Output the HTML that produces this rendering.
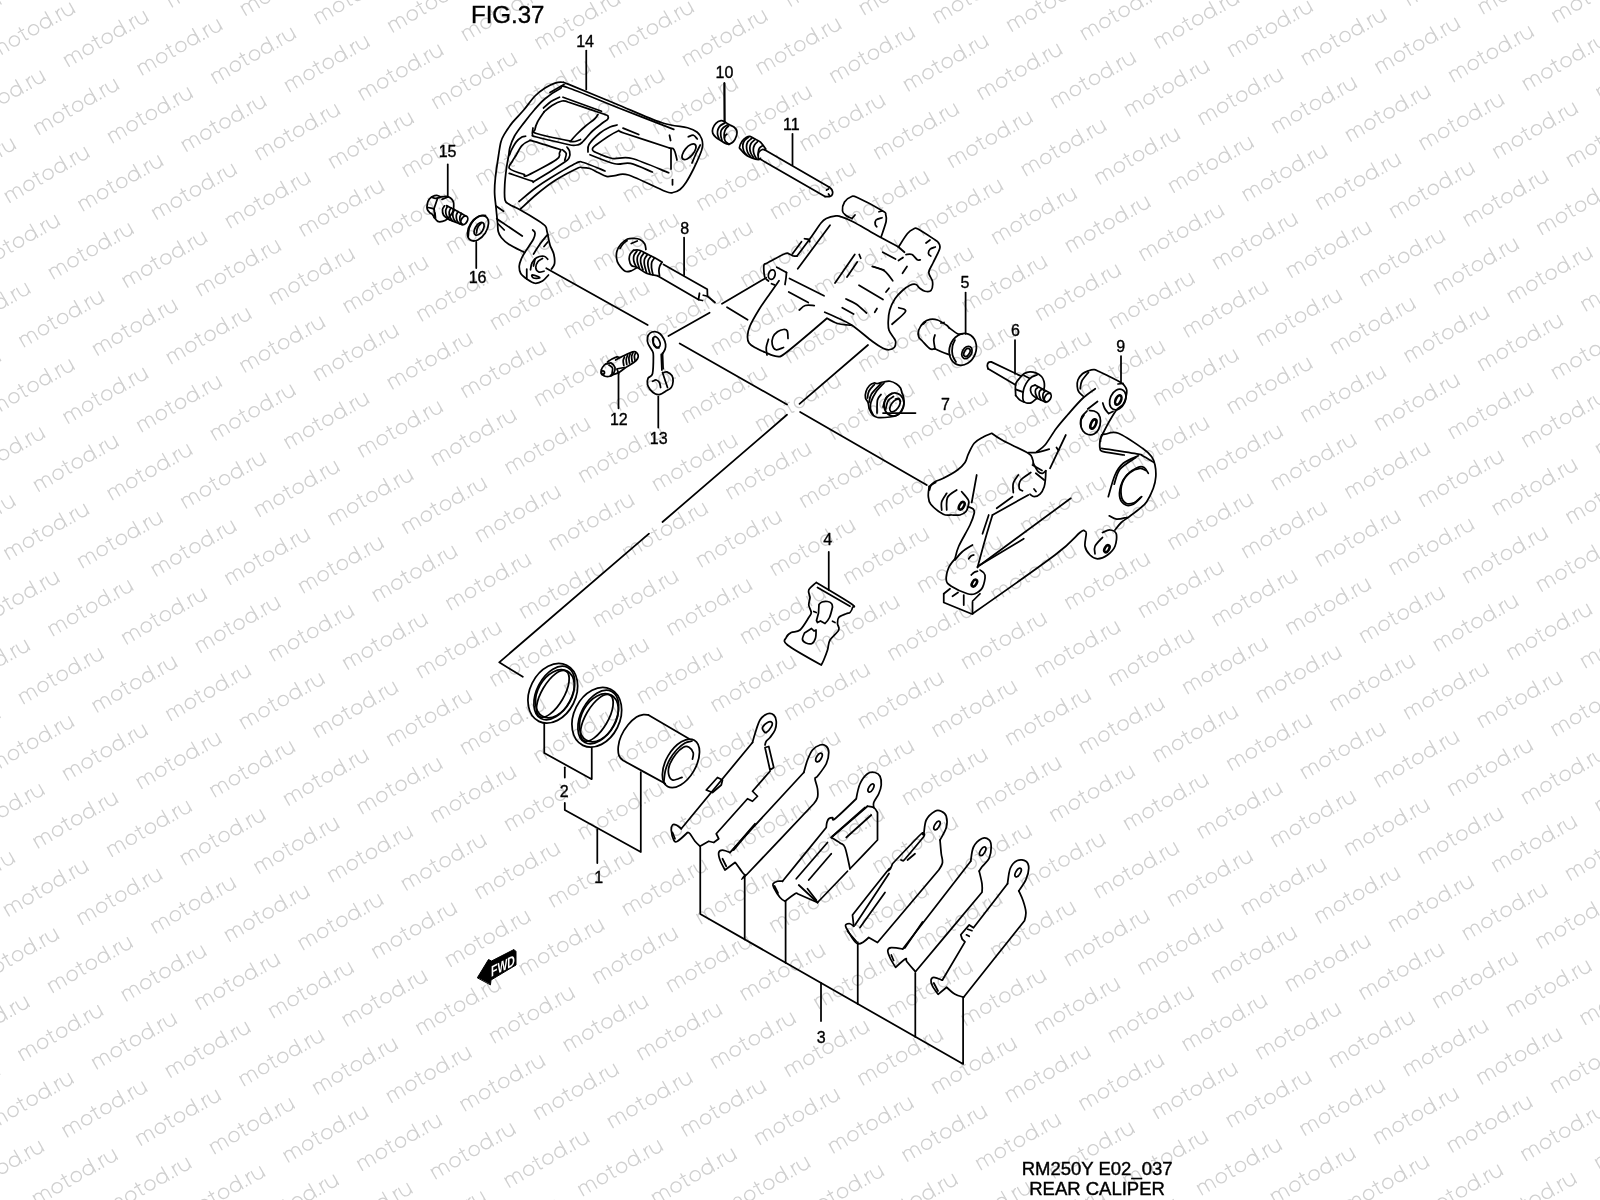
<!DOCTYPE html>
<html><head><meta charset="utf-8"><title>Rear Caliper</title>
<style>
html,body{margin:0;padding:0;background:#fff;}
body{width:1600px;height:1200px;overflow:hidden;}
svg{display:block;filter:grayscale(1);}
.t{font-family:"Liberation Sans",sans-serif;fill:#000;}
</style></head><body>
<svg width="1600" height="1200" viewBox="0 0 1600 1200">
<defs><g id="wm"><path d="M0.3,0V-10.5M0.3,-6.6A3.85,4 0 0 1 8,-6.6V0M8,-6.6A3.7,4 0 0 1 15.4,-6.6V0M35.7,-14.3V-1.8Q35.9,-0.1 38,-0.3M32.6,-10.8H38.6M66.2,-15.2V0M75.6,0V-10.5M75.6,-6.8Q76.4,-10.5 79.6,-10.7M82,-10.6V-4.6A4.8,4.8 0 0 0 91.6,-4.6M91.6,-10.6V0"/><circle cx="25" cy="-5.4" r="5.1"/><circle cx="47.2" cy="-5.5" r="5.1"/><circle cx="61" cy="-5.5" r="5.1"/><circle cx="71" cy="-0.7" r="1" fill="#d0d0d0" stroke="none"/></g></defs>
<rect width="1600" height="1200" fill="#fff"/>
<g transform="rotate(-30)" fill="none" stroke="#d0d0d0" stroke-width="1.35" stroke-linecap="round">
<g fill="none"><use href="#wm" x="-688.6" y="4.0"/>
<use href="#wm" x="-569.4" y="4.0"/>
<use href="#wm" x="-450.2" y="4.0"/>
<use href="#wm" x="-331.0" y="4.0"/>
<use href="#wm" x="-211.8" y="4.0"/>
<use href="#wm" x="-92.6" y="4.0"/>
<use href="#wm" x="26.6" y="4.0"/>
<use href="#wm" x="145.8" y="4.0"/>
<use href="#wm" x="265.0" y="4.0"/>
<use href="#wm" x="384.2" y="4.0"/>
<use href="#wm" x="503.4" y="4.0"/>
<use href="#wm" x="622.6" y="4.0"/>
<use href="#wm" x="741.8" y="4.0"/>
<use href="#wm" x="861.0" y="4.0"/>
<use href="#wm" x="980.2" y="4.0"/>
<use href="#wm" x="1099.4" y="4.0"/>
<use href="#wm" x="1218.6" y="4.0"/>
<use href="#wm" x="1337.8" y="4.0"/>
<use href="#wm" x="-629.0" y="48.1"/>
<use href="#wm" x="-509.8" y="48.1"/>
<use href="#wm" x="-390.6" y="48.1"/>
<use href="#wm" x="-271.4" y="48.1"/>
<use href="#wm" x="-152.2" y="48.1"/>
<use href="#wm" x="-33.0" y="48.1"/>
<use href="#wm" x="86.2" y="48.1"/>
<use href="#wm" x="205.4" y="48.1"/>
<use href="#wm" x="324.6" y="48.1"/>
<use href="#wm" x="443.8" y="48.1"/>
<use href="#wm" x="563.0" y="48.1"/>
<use href="#wm" x="682.2" y="48.1"/>
<use href="#wm" x="801.4" y="48.1"/>
<use href="#wm" x="920.6" y="48.1"/>
<use href="#wm" x="1039.8" y="48.1"/>
<use href="#wm" x="1159.0" y="48.1"/>
<use href="#wm" x="1278.2" y="48.1"/>
<use href="#wm" x="1397.4" y="48.1"/>
<use href="#wm" x="-688.6" y="92.2"/>
<use href="#wm" x="-569.4" y="92.2"/>
<use href="#wm" x="-450.2" y="92.2"/>
<use href="#wm" x="-331.0" y="92.2"/>
<use href="#wm" x="-211.8" y="92.2"/>
<use href="#wm" x="-92.6" y="92.2"/>
<use href="#wm" x="26.6" y="92.2"/>
<use href="#wm" x="145.8" y="92.2"/>
<use href="#wm" x="265.0" y="92.2"/>
<use href="#wm" x="384.2" y="92.2"/>
<use href="#wm" x="503.4" y="92.2"/>
<use href="#wm" x="622.6" y="92.2"/>
<use href="#wm" x="741.8" y="92.2"/>
<use href="#wm" x="861.0" y="92.2"/>
<use href="#wm" x="980.2" y="92.2"/>
<use href="#wm" x="1099.4" y="92.2"/>
<use href="#wm" x="1218.6" y="92.2"/>
<use href="#wm" x="1337.8" y="92.2"/>
<use href="#wm" x="-629.0" y="136.3"/>
<use href="#wm" x="-509.8" y="136.3"/>
<use href="#wm" x="-390.6" y="136.3"/>
<use href="#wm" x="-271.4" y="136.3"/>
<use href="#wm" x="-152.2" y="136.3"/>
<use href="#wm" x="-33.0" y="136.3"/>
<use href="#wm" x="86.2" y="136.3"/>
<use href="#wm" x="205.4" y="136.3"/>
<use href="#wm" x="324.6" y="136.3"/>
<use href="#wm" x="443.8" y="136.3"/>
<use href="#wm" x="563.0" y="136.3"/>
<use href="#wm" x="682.2" y="136.3"/>
<use href="#wm" x="801.4" y="136.3"/>
<use href="#wm" x="920.6" y="136.3"/>
<use href="#wm" x="1039.8" y="136.3"/>
<use href="#wm" x="1159.0" y="136.3"/>
<use href="#wm" x="1278.2" y="136.3"/>
<use href="#wm" x="1397.4" y="136.3"/>
<use href="#wm" x="-688.6" y="180.4"/>
<use href="#wm" x="-569.4" y="180.4"/>
<use href="#wm" x="-450.2" y="180.4"/>
<use href="#wm" x="-331.0" y="180.4"/>
<use href="#wm" x="-211.8" y="180.4"/>
<use href="#wm" x="-92.6" y="180.4"/>
<use href="#wm" x="26.6" y="180.4"/>
<use href="#wm" x="145.8" y="180.4"/>
<use href="#wm" x="265.0" y="180.4"/>
<use href="#wm" x="384.2" y="180.4"/>
<use href="#wm" x="503.4" y="180.4"/>
<use href="#wm" x="622.6" y="180.4"/>
<use href="#wm" x="741.8" y="180.4"/>
<use href="#wm" x="861.0" y="180.4"/>
<use href="#wm" x="980.2" y="180.4"/>
<use href="#wm" x="1099.4" y="180.4"/>
<use href="#wm" x="1218.6" y="180.4"/>
<use href="#wm" x="1337.8" y="180.4"/>
<use href="#wm" x="-629.0" y="224.5"/>
<use href="#wm" x="-509.8" y="224.5"/>
<use href="#wm" x="-390.6" y="224.5"/>
<use href="#wm" x="-271.4" y="224.5"/>
<use href="#wm" x="-152.2" y="224.5"/>
<use href="#wm" x="-33.0" y="224.5"/>
<use href="#wm" x="86.2" y="224.5"/>
<use href="#wm" x="205.4" y="224.5"/>
<use href="#wm" x="324.6" y="224.5"/>
<use href="#wm" x="443.8" y="224.5"/>
<use href="#wm" x="563.0" y="224.5"/>
<use href="#wm" x="682.2" y="224.5"/>
<use href="#wm" x="801.4" y="224.5"/>
<use href="#wm" x="920.6" y="224.5"/>
<use href="#wm" x="1039.8" y="224.5"/>
<use href="#wm" x="1159.0" y="224.5"/>
<use href="#wm" x="1278.2" y="224.5"/>
<use href="#wm" x="1397.4" y="224.5"/>
<use href="#wm" x="-688.6" y="268.6"/>
<use href="#wm" x="-569.4" y="268.6"/>
<use href="#wm" x="-450.2" y="268.6"/>
<use href="#wm" x="-331.0" y="268.6"/>
<use href="#wm" x="-211.8" y="268.6"/>
<use href="#wm" x="-92.6" y="268.6"/>
<use href="#wm" x="26.6" y="268.6"/>
<use href="#wm" x="145.8" y="268.6"/>
<use href="#wm" x="265.0" y="268.6"/>
<use href="#wm" x="384.2" y="268.6"/>
<use href="#wm" x="503.4" y="268.6"/>
<use href="#wm" x="622.6" y="268.6"/>
<use href="#wm" x="741.8" y="268.6"/>
<use href="#wm" x="861.0" y="268.6"/>
<use href="#wm" x="980.2" y="268.6"/>
<use href="#wm" x="1099.4" y="268.6"/>
<use href="#wm" x="1218.6" y="268.6"/>
<use href="#wm" x="1337.8" y="268.6"/>
<use href="#wm" x="-629.0" y="312.7"/>
<use href="#wm" x="-509.8" y="312.7"/>
<use href="#wm" x="-390.6" y="312.7"/>
<use href="#wm" x="-271.4" y="312.7"/>
<use href="#wm" x="-152.2" y="312.7"/>
<use href="#wm" x="-33.0" y="312.7"/>
<use href="#wm" x="86.2" y="312.7"/>
<use href="#wm" x="205.4" y="312.7"/>
<use href="#wm" x="324.6" y="312.7"/>
<use href="#wm" x="443.8" y="312.7"/>
<use href="#wm" x="563.0" y="312.7"/>
<use href="#wm" x="682.2" y="312.7"/>
<use href="#wm" x="801.4" y="312.7"/>
<use href="#wm" x="920.6" y="312.7"/>
<use href="#wm" x="1039.8" y="312.7"/>
<use href="#wm" x="1159.0" y="312.7"/>
<use href="#wm" x="1278.2" y="312.7"/>
<use href="#wm" x="1397.4" y="312.7"/>
<use href="#wm" x="-688.6" y="356.8"/>
<use href="#wm" x="-569.4" y="356.8"/>
<use href="#wm" x="-450.2" y="356.8"/>
<use href="#wm" x="-331.0" y="356.8"/>
<use href="#wm" x="-211.8" y="356.8"/>
<use href="#wm" x="-92.6" y="356.8"/>
<use href="#wm" x="26.6" y="356.8"/>
<use href="#wm" x="145.8" y="356.8"/>
<use href="#wm" x="265.0" y="356.8"/>
<use href="#wm" x="384.2" y="356.8"/>
<use href="#wm" x="503.4" y="356.8"/>
<use href="#wm" x="622.6" y="356.8"/>
<use href="#wm" x="741.8" y="356.8"/>
<use href="#wm" x="861.0" y="356.8"/>
<use href="#wm" x="980.2" y="356.8"/>
<use href="#wm" x="1099.4" y="356.8"/>
<use href="#wm" x="1218.6" y="356.8"/>
<use href="#wm" x="1337.8" y="356.8"/>
<use href="#wm" x="-629.0" y="401.0"/>
<use href="#wm" x="-509.8" y="401.0"/>
<use href="#wm" x="-390.6" y="401.0"/>
<use href="#wm" x="-271.4" y="401.0"/>
<use href="#wm" x="-152.2" y="401.0"/>
<use href="#wm" x="-33.0" y="401.0"/>
<use href="#wm" x="86.2" y="401.0"/>
<use href="#wm" x="205.4" y="401.0"/>
<use href="#wm" x="324.6" y="401.0"/>
<use href="#wm" x="443.8" y="401.0"/>
<use href="#wm" x="563.0" y="401.0"/>
<use href="#wm" x="682.2" y="401.0"/>
<use href="#wm" x="801.4" y="401.0"/>
<use href="#wm" x="920.6" y="401.0"/>
<use href="#wm" x="1039.8" y="401.0"/>
<use href="#wm" x="1159.0" y="401.0"/>
<use href="#wm" x="1278.2" y="401.0"/>
<use href="#wm" x="1397.4" y="401.0"/>
<use href="#wm" x="-688.6" y="445.1"/>
<use href="#wm" x="-569.4" y="445.1"/>
<use href="#wm" x="-450.2" y="445.1"/>
<use href="#wm" x="-331.0" y="445.1"/>
<use href="#wm" x="-211.8" y="445.1"/>
<use href="#wm" x="-92.6" y="445.1"/>
<use href="#wm" x="26.6" y="445.1"/>
<use href="#wm" x="145.8" y="445.1"/>
<use href="#wm" x="265.0" y="445.1"/>
<use href="#wm" x="384.2" y="445.1"/>
<use href="#wm" x="503.4" y="445.1"/>
<use href="#wm" x="622.6" y="445.1"/>
<use href="#wm" x="741.8" y="445.1"/>
<use href="#wm" x="861.0" y="445.1"/>
<use href="#wm" x="980.2" y="445.1"/>
<use href="#wm" x="1099.4" y="445.1"/>
<use href="#wm" x="1218.6" y="445.1"/>
<use href="#wm" x="1337.8" y="445.1"/>
<use href="#wm" x="-629.0" y="489.2"/>
<use href="#wm" x="-509.8" y="489.2"/>
<use href="#wm" x="-390.6" y="489.2"/>
<use href="#wm" x="-271.4" y="489.2"/>
<use href="#wm" x="-152.2" y="489.2"/>
<use href="#wm" x="-33.0" y="489.2"/>
<use href="#wm" x="86.2" y="489.2"/>
<use href="#wm" x="205.4" y="489.2"/>
<use href="#wm" x="324.6" y="489.2"/>
<use href="#wm" x="443.8" y="489.2"/>
<use href="#wm" x="563.0" y="489.2"/>
<use href="#wm" x="682.2" y="489.2"/>
<use href="#wm" x="801.4" y="489.2"/>
<use href="#wm" x="920.6" y="489.2"/>
<use href="#wm" x="1039.8" y="489.2"/>
<use href="#wm" x="1159.0" y="489.2"/>
<use href="#wm" x="1278.2" y="489.2"/>
<use href="#wm" x="1397.4" y="489.2"/>
<use href="#wm" x="-688.6" y="533.3"/>
<use href="#wm" x="-569.4" y="533.3"/>
<use href="#wm" x="-450.2" y="533.3"/>
<use href="#wm" x="-331.0" y="533.3"/>
<use href="#wm" x="-211.8" y="533.3"/>
<use href="#wm" x="-92.6" y="533.3"/>
<use href="#wm" x="26.6" y="533.3"/>
<use href="#wm" x="145.8" y="533.3"/>
<use href="#wm" x="265.0" y="533.3"/>
<use href="#wm" x="384.2" y="533.3"/>
<use href="#wm" x="503.4" y="533.3"/>
<use href="#wm" x="622.6" y="533.3"/>
<use href="#wm" x="741.8" y="533.3"/>
<use href="#wm" x="861.0" y="533.3"/>
<use href="#wm" x="980.2" y="533.3"/>
<use href="#wm" x="1099.4" y="533.3"/>
<use href="#wm" x="1218.6" y="533.3"/>
<use href="#wm" x="1337.8" y="533.3"/>
<use href="#wm" x="-629.0" y="577.4"/>
<use href="#wm" x="-509.8" y="577.4"/>
<use href="#wm" x="-390.6" y="577.4"/>
<use href="#wm" x="-271.4" y="577.4"/>
<use href="#wm" x="-152.2" y="577.4"/>
<use href="#wm" x="-33.0" y="577.4"/>
<use href="#wm" x="86.2" y="577.4"/>
<use href="#wm" x="205.4" y="577.4"/>
<use href="#wm" x="324.6" y="577.4"/>
<use href="#wm" x="443.8" y="577.4"/>
<use href="#wm" x="563.0" y="577.4"/>
<use href="#wm" x="682.2" y="577.4"/>
<use href="#wm" x="801.4" y="577.4"/>
<use href="#wm" x="920.6" y="577.4"/>
<use href="#wm" x="1039.8" y="577.4"/>
<use href="#wm" x="1159.0" y="577.4"/>
<use href="#wm" x="1278.2" y="577.4"/>
<use href="#wm" x="1397.4" y="577.4"/>
<use href="#wm" x="-688.6" y="621.5"/>
<use href="#wm" x="-569.4" y="621.5"/>
<use href="#wm" x="-450.2" y="621.5"/>
<use href="#wm" x="-331.0" y="621.5"/>
<use href="#wm" x="-211.8" y="621.5"/>
<use href="#wm" x="-92.6" y="621.5"/>
<use href="#wm" x="26.6" y="621.5"/>
<use href="#wm" x="145.8" y="621.5"/>
<use href="#wm" x="265.0" y="621.5"/>
<use href="#wm" x="384.2" y="621.5"/>
<use href="#wm" x="503.4" y="621.5"/>
<use href="#wm" x="622.6" y="621.5"/>
<use href="#wm" x="741.8" y="621.5"/>
<use href="#wm" x="861.0" y="621.5"/>
<use href="#wm" x="980.2" y="621.5"/>
<use href="#wm" x="1099.4" y="621.5"/>
<use href="#wm" x="1218.6" y="621.5"/>
<use href="#wm" x="1337.8" y="621.5"/>
<use href="#wm" x="-629.0" y="665.6"/>
<use href="#wm" x="-509.8" y="665.6"/>
<use href="#wm" x="-390.6" y="665.6"/>
<use href="#wm" x="-271.4" y="665.6"/>
<use href="#wm" x="-152.2" y="665.6"/>
<use href="#wm" x="-33.0" y="665.6"/>
<use href="#wm" x="86.2" y="665.6"/>
<use href="#wm" x="205.4" y="665.6"/>
<use href="#wm" x="324.6" y="665.6"/>
<use href="#wm" x="443.8" y="665.6"/>
<use href="#wm" x="563.0" y="665.6"/>
<use href="#wm" x="682.2" y="665.6"/>
<use href="#wm" x="801.4" y="665.6"/>
<use href="#wm" x="920.6" y="665.6"/>
<use href="#wm" x="1039.8" y="665.6"/>
<use href="#wm" x="1159.0" y="665.6"/>
<use href="#wm" x="1278.2" y="665.6"/>
<use href="#wm" x="1397.4" y="665.6"/>
<use href="#wm" x="-688.6" y="709.7"/>
<use href="#wm" x="-569.4" y="709.7"/>
<use href="#wm" x="-450.2" y="709.7"/>
<use href="#wm" x="-331.0" y="709.7"/>
<use href="#wm" x="-211.8" y="709.7"/>
<use href="#wm" x="-92.6" y="709.7"/>
<use href="#wm" x="26.6" y="709.7"/>
<use href="#wm" x="145.8" y="709.7"/>
<use href="#wm" x="265.0" y="709.7"/>
<use href="#wm" x="384.2" y="709.7"/>
<use href="#wm" x="503.4" y="709.7"/>
<use href="#wm" x="622.6" y="709.7"/>
<use href="#wm" x="741.8" y="709.7"/>
<use href="#wm" x="861.0" y="709.7"/>
<use href="#wm" x="980.2" y="709.7"/>
<use href="#wm" x="1099.4" y="709.7"/>
<use href="#wm" x="1218.6" y="709.7"/>
<use href="#wm" x="1337.8" y="709.7"/>
<use href="#wm" x="-629.0" y="753.8"/>
<use href="#wm" x="-509.8" y="753.8"/>
<use href="#wm" x="-390.6" y="753.8"/>
<use href="#wm" x="-271.4" y="753.8"/>
<use href="#wm" x="-152.2" y="753.8"/>
<use href="#wm" x="-33.0" y="753.8"/>
<use href="#wm" x="86.2" y="753.8"/>
<use href="#wm" x="205.4" y="753.8"/>
<use href="#wm" x="324.6" y="753.8"/>
<use href="#wm" x="443.8" y="753.8"/>
<use href="#wm" x="563.0" y="753.8"/>
<use href="#wm" x="682.2" y="753.8"/>
<use href="#wm" x="801.4" y="753.8"/>
<use href="#wm" x="920.6" y="753.8"/>
<use href="#wm" x="1039.8" y="753.8"/>
<use href="#wm" x="1159.0" y="753.8"/>
<use href="#wm" x="1278.2" y="753.8"/>
<use href="#wm" x="1397.4" y="753.8"/>
<use href="#wm" x="-688.6" y="797.9"/>
<use href="#wm" x="-569.4" y="797.9"/>
<use href="#wm" x="-450.2" y="797.9"/>
<use href="#wm" x="-331.0" y="797.9"/>
<use href="#wm" x="-211.8" y="797.9"/>
<use href="#wm" x="-92.6" y="797.9"/>
<use href="#wm" x="26.6" y="797.9"/>
<use href="#wm" x="145.8" y="797.9"/>
<use href="#wm" x="265.0" y="797.9"/>
<use href="#wm" x="384.2" y="797.9"/>
<use href="#wm" x="503.4" y="797.9"/>
<use href="#wm" x="622.6" y="797.9"/>
<use href="#wm" x="741.8" y="797.9"/>
<use href="#wm" x="861.0" y="797.9"/>
<use href="#wm" x="980.2" y="797.9"/>
<use href="#wm" x="1099.4" y="797.9"/>
<use href="#wm" x="1218.6" y="797.9"/>
<use href="#wm" x="1337.8" y="797.9"/>
<use href="#wm" x="-629.0" y="842.0"/>
<use href="#wm" x="-509.8" y="842.0"/>
<use href="#wm" x="-390.6" y="842.0"/>
<use href="#wm" x="-271.4" y="842.0"/>
<use href="#wm" x="-152.2" y="842.0"/>
<use href="#wm" x="-33.0" y="842.0"/>
<use href="#wm" x="86.2" y="842.0"/>
<use href="#wm" x="205.4" y="842.0"/>
<use href="#wm" x="324.6" y="842.0"/>
<use href="#wm" x="443.8" y="842.0"/>
<use href="#wm" x="563.0" y="842.0"/>
<use href="#wm" x="682.2" y="842.0"/>
<use href="#wm" x="801.4" y="842.0"/>
<use href="#wm" x="920.6" y="842.0"/>
<use href="#wm" x="1039.8" y="842.0"/>
<use href="#wm" x="1159.0" y="842.0"/>
<use href="#wm" x="1278.2" y="842.0"/>
<use href="#wm" x="1397.4" y="842.0"/>
<use href="#wm" x="-688.6" y="886.2"/>
<use href="#wm" x="-569.4" y="886.2"/>
<use href="#wm" x="-450.2" y="886.2"/>
<use href="#wm" x="-331.0" y="886.2"/>
<use href="#wm" x="-211.8" y="886.2"/>
<use href="#wm" x="-92.6" y="886.2"/>
<use href="#wm" x="26.6" y="886.2"/>
<use href="#wm" x="145.8" y="886.2"/>
<use href="#wm" x="265.0" y="886.2"/>
<use href="#wm" x="384.2" y="886.2"/>
<use href="#wm" x="503.4" y="886.2"/>
<use href="#wm" x="622.6" y="886.2"/>
<use href="#wm" x="741.8" y="886.2"/>
<use href="#wm" x="861.0" y="886.2"/>
<use href="#wm" x="980.2" y="886.2"/>
<use href="#wm" x="1099.4" y="886.2"/>
<use href="#wm" x="1218.6" y="886.2"/>
<use href="#wm" x="1337.8" y="886.2"/>
<use href="#wm" x="-629.0" y="930.3"/>
<use href="#wm" x="-509.8" y="930.3"/>
<use href="#wm" x="-390.6" y="930.3"/>
<use href="#wm" x="-271.4" y="930.3"/>
<use href="#wm" x="-152.2" y="930.3"/>
<use href="#wm" x="-33.0" y="930.3"/>
<use href="#wm" x="86.2" y="930.3"/>
<use href="#wm" x="205.4" y="930.3"/>
<use href="#wm" x="324.6" y="930.3"/>
<use href="#wm" x="443.8" y="930.3"/>
<use href="#wm" x="563.0" y="930.3"/>
<use href="#wm" x="682.2" y="930.3"/>
<use href="#wm" x="801.4" y="930.3"/>
<use href="#wm" x="920.6" y="930.3"/>
<use href="#wm" x="1039.8" y="930.3"/>
<use href="#wm" x="1159.0" y="930.3"/>
<use href="#wm" x="1278.2" y="930.3"/>
<use href="#wm" x="1397.4" y="930.3"/>
<use href="#wm" x="-688.6" y="974.4"/>
<use href="#wm" x="-569.4" y="974.4"/>
<use href="#wm" x="-450.2" y="974.4"/>
<use href="#wm" x="-331.0" y="974.4"/>
<use href="#wm" x="-211.8" y="974.4"/>
<use href="#wm" x="-92.6" y="974.4"/>
<use href="#wm" x="26.6" y="974.4"/>
<use href="#wm" x="145.8" y="974.4"/>
<use href="#wm" x="265.0" y="974.4"/>
<use href="#wm" x="384.2" y="974.4"/>
<use href="#wm" x="503.4" y="974.4"/>
<use href="#wm" x="622.6" y="974.4"/>
<use href="#wm" x="741.8" y="974.4"/>
<use href="#wm" x="861.0" y="974.4"/>
<use href="#wm" x="980.2" y="974.4"/>
<use href="#wm" x="1099.4" y="974.4"/>
<use href="#wm" x="1218.6" y="974.4"/>
<use href="#wm" x="1337.8" y="974.4"/>
<use href="#wm" x="-629.0" y="1018.5"/>
<use href="#wm" x="-509.8" y="1018.5"/>
<use href="#wm" x="-390.6" y="1018.5"/>
<use href="#wm" x="-271.4" y="1018.5"/>
<use href="#wm" x="-152.2" y="1018.5"/>
<use href="#wm" x="-33.0" y="1018.5"/>
<use href="#wm" x="86.2" y="1018.5"/>
<use href="#wm" x="205.4" y="1018.5"/>
<use href="#wm" x="324.6" y="1018.5"/>
<use href="#wm" x="443.8" y="1018.5"/>
<use href="#wm" x="563.0" y="1018.5"/>
<use href="#wm" x="682.2" y="1018.5"/>
<use href="#wm" x="801.4" y="1018.5"/>
<use href="#wm" x="920.6" y="1018.5"/>
<use href="#wm" x="1039.8" y="1018.5"/>
<use href="#wm" x="1159.0" y="1018.5"/>
<use href="#wm" x="1278.2" y="1018.5"/>
<use href="#wm" x="1397.4" y="1018.5"/>
<use href="#wm" x="-688.6" y="1062.6"/>
<use href="#wm" x="-569.4" y="1062.6"/>
<use href="#wm" x="-450.2" y="1062.6"/>
<use href="#wm" x="-331.0" y="1062.6"/>
<use href="#wm" x="-211.8" y="1062.6"/>
<use href="#wm" x="-92.6" y="1062.6"/>
<use href="#wm" x="26.6" y="1062.6"/>
<use href="#wm" x="145.8" y="1062.6"/>
<use href="#wm" x="265.0" y="1062.6"/>
<use href="#wm" x="384.2" y="1062.6"/>
<use href="#wm" x="503.4" y="1062.6"/>
<use href="#wm" x="622.6" y="1062.6"/>
<use href="#wm" x="741.8" y="1062.6"/>
<use href="#wm" x="861.0" y="1062.6"/>
<use href="#wm" x="980.2" y="1062.6"/>
<use href="#wm" x="1099.4" y="1062.6"/>
<use href="#wm" x="1218.6" y="1062.6"/>
<use href="#wm" x="1337.8" y="1062.6"/>
<use href="#wm" x="-629.0" y="1106.7"/>
<use href="#wm" x="-509.8" y="1106.7"/>
<use href="#wm" x="-390.6" y="1106.7"/>
<use href="#wm" x="-271.4" y="1106.7"/>
<use href="#wm" x="-152.2" y="1106.7"/>
<use href="#wm" x="-33.0" y="1106.7"/>
<use href="#wm" x="86.2" y="1106.7"/>
<use href="#wm" x="205.4" y="1106.7"/>
<use href="#wm" x="324.6" y="1106.7"/>
<use href="#wm" x="443.8" y="1106.7"/>
<use href="#wm" x="563.0" y="1106.7"/>
<use href="#wm" x="682.2" y="1106.7"/>
<use href="#wm" x="801.4" y="1106.7"/>
<use href="#wm" x="920.6" y="1106.7"/>
<use href="#wm" x="1039.8" y="1106.7"/>
<use href="#wm" x="1159.0" y="1106.7"/>
<use href="#wm" x="1278.2" y="1106.7"/>
<use href="#wm" x="1397.4" y="1106.7"/>
<use href="#wm" x="-688.6" y="1150.8"/>
<use href="#wm" x="-569.4" y="1150.8"/>
<use href="#wm" x="-450.2" y="1150.8"/>
<use href="#wm" x="-331.0" y="1150.8"/>
<use href="#wm" x="-211.8" y="1150.8"/>
<use href="#wm" x="-92.6" y="1150.8"/>
<use href="#wm" x="26.6" y="1150.8"/>
<use href="#wm" x="145.8" y="1150.8"/>
<use href="#wm" x="265.0" y="1150.8"/>
<use href="#wm" x="384.2" y="1150.8"/>
<use href="#wm" x="503.4" y="1150.8"/>
<use href="#wm" x="622.6" y="1150.8"/>
<use href="#wm" x="741.8" y="1150.8"/>
<use href="#wm" x="861.0" y="1150.8"/>
<use href="#wm" x="980.2" y="1150.8"/>
<use href="#wm" x="1099.4" y="1150.8"/>
<use href="#wm" x="1218.6" y="1150.8"/>
<use href="#wm" x="1337.8" y="1150.8"/>
<use href="#wm" x="-629.0" y="1194.9"/>
<use href="#wm" x="-509.8" y="1194.9"/>
<use href="#wm" x="-390.6" y="1194.9"/>
<use href="#wm" x="-271.4" y="1194.9"/>
<use href="#wm" x="-152.2" y="1194.9"/>
<use href="#wm" x="-33.0" y="1194.9"/>
<use href="#wm" x="86.2" y="1194.9"/>
<use href="#wm" x="205.4" y="1194.9"/>
<use href="#wm" x="324.6" y="1194.9"/>
<use href="#wm" x="443.8" y="1194.9"/>
<use href="#wm" x="563.0" y="1194.9"/>
<use href="#wm" x="682.2" y="1194.9"/>
<use href="#wm" x="801.4" y="1194.9"/>
<use href="#wm" x="920.6" y="1194.9"/>
<use href="#wm" x="1039.8" y="1194.9"/>
<use href="#wm" x="1159.0" y="1194.9"/>
<use href="#wm" x="1278.2" y="1194.9"/>
<use href="#wm" x="1397.4" y="1194.9"/>
<use href="#wm" x="-688.6" y="1239.0"/>
<use href="#wm" x="-569.4" y="1239.0"/>
<use href="#wm" x="-450.2" y="1239.0"/>
<use href="#wm" x="-331.0" y="1239.0"/>
<use href="#wm" x="-211.8" y="1239.0"/>
<use href="#wm" x="-92.6" y="1239.0"/>
<use href="#wm" x="26.6" y="1239.0"/>
<use href="#wm" x="145.8" y="1239.0"/>
<use href="#wm" x="265.0" y="1239.0"/>
<use href="#wm" x="384.2" y="1239.0"/>
<use href="#wm" x="503.4" y="1239.0"/>
<use href="#wm" x="622.6" y="1239.0"/>
<use href="#wm" x="741.8" y="1239.0"/>
<use href="#wm" x="861.0" y="1239.0"/>
<use href="#wm" x="980.2" y="1239.0"/>
<use href="#wm" x="1099.4" y="1239.0"/>
<use href="#wm" x="1218.6" y="1239.0"/>
<use href="#wm" x="1337.8" y="1239.0"/>
<use href="#wm" x="-629.0" y="1283.2"/>
<use href="#wm" x="-509.8" y="1283.2"/>
<use href="#wm" x="-390.6" y="1283.2"/>
<use href="#wm" x="-271.4" y="1283.2"/>
<use href="#wm" x="-152.2" y="1283.2"/>
<use href="#wm" x="-33.0" y="1283.2"/>
<use href="#wm" x="86.2" y="1283.2"/>
<use href="#wm" x="205.4" y="1283.2"/>
<use href="#wm" x="324.6" y="1283.2"/>
<use href="#wm" x="443.8" y="1283.2"/>
<use href="#wm" x="563.0" y="1283.2"/>
<use href="#wm" x="682.2" y="1283.2"/>
<use href="#wm" x="801.4" y="1283.2"/>
<use href="#wm" x="920.6" y="1283.2"/>
<use href="#wm" x="1039.8" y="1283.2"/>
<use href="#wm" x="1159.0" y="1283.2"/>
<use href="#wm" x="1278.2" y="1283.2"/>
<use href="#wm" x="1397.4" y="1283.2"/>
<use href="#wm" x="-688.6" y="1327.3"/>
<use href="#wm" x="-569.4" y="1327.3"/>
<use href="#wm" x="-450.2" y="1327.3"/>
<use href="#wm" x="-331.0" y="1327.3"/>
<use href="#wm" x="-211.8" y="1327.3"/>
<use href="#wm" x="-92.6" y="1327.3"/>
<use href="#wm" x="26.6" y="1327.3"/>
<use href="#wm" x="145.8" y="1327.3"/>
<use href="#wm" x="265.0" y="1327.3"/>
<use href="#wm" x="384.2" y="1327.3"/>
<use href="#wm" x="503.4" y="1327.3"/>
<use href="#wm" x="622.6" y="1327.3"/>
<use href="#wm" x="741.8" y="1327.3"/>
<use href="#wm" x="861.0" y="1327.3"/>
<use href="#wm" x="980.2" y="1327.3"/>
<use href="#wm" x="1099.4" y="1327.3"/>
<use href="#wm" x="1218.6" y="1327.3"/>
<use href="#wm" x="1337.8" y="1327.3"/>
<use href="#wm" x="-629.0" y="1371.4"/>
<use href="#wm" x="-509.8" y="1371.4"/>
<use href="#wm" x="-390.6" y="1371.4"/>
<use href="#wm" x="-271.4" y="1371.4"/>
<use href="#wm" x="-152.2" y="1371.4"/>
<use href="#wm" x="-33.0" y="1371.4"/>
<use href="#wm" x="86.2" y="1371.4"/>
<use href="#wm" x="205.4" y="1371.4"/>
<use href="#wm" x="324.6" y="1371.4"/>
<use href="#wm" x="443.8" y="1371.4"/>
<use href="#wm" x="563.0" y="1371.4"/>
<use href="#wm" x="682.2" y="1371.4"/>
<use href="#wm" x="801.4" y="1371.4"/>
<use href="#wm" x="920.6" y="1371.4"/>
<use href="#wm" x="1039.8" y="1371.4"/>
<use href="#wm" x="1159.0" y="1371.4"/>
<use href="#wm" x="1278.2" y="1371.4"/>
<use href="#wm" x="1397.4" y="1371.4"/>
<use href="#wm" x="-688.6" y="1415.5"/>
<use href="#wm" x="-569.4" y="1415.5"/>
<use href="#wm" x="-450.2" y="1415.5"/>
<use href="#wm" x="-331.0" y="1415.5"/>
<use href="#wm" x="-211.8" y="1415.5"/>
<use href="#wm" x="-92.6" y="1415.5"/>
<use href="#wm" x="26.6" y="1415.5"/>
<use href="#wm" x="145.8" y="1415.5"/>
<use href="#wm" x="265.0" y="1415.5"/>
<use href="#wm" x="384.2" y="1415.5"/>
<use href="#wm" x="503.4" y="1415.5"/>
<use href="#wm" x="622.6" y="1415.5"/>
<use href="#wm" x="741.8" y="1415.5"/>
<use href="#wm" x="861.0" y="1415.5"/>
<use href="#wm" x="980.2" y="1415.5"/>
<use href="#wm" x="1099.4" y="1415.5"/>
<use href="#wm" x="1218.6" y="1415.5"/>
<use href="#wm" x="1337.8" y="1415.5"/>
<use href="#wm" x="-629.0" y="1459.6"/>
<use href="#wm" x="-509.8" y="1459.6"/>
<use href="#wm" x="-390.6" y="1459.6"/>
<use href="#wm" x="-271.4" y="1459.6"/>
<use href="#wm" x="-152.2" y="1459.6"/>
<use href="#wm" x="-33.0" y="1459.6"/>
<use href="#wm" x="86.2" y="1459.6"/>
<use href="#wm" x="205.4" y="1459.6"/>
<use href="#wm" x="324.6" y="1459.6"/>
<use href="#wm" x="443.8" y="1459.6"/>
<use href="#wm" x="563.0" y="1459.6"/>
<use href="#wm" x="682.2" y="1459.6"/>
<use href="#wm" x="801.4" y="1459.6"/>
<use href="#wm" x="920.6" y="1459.6"/>
<use href="#wm" x="1039.8" y="1459.6"/>
<use href="#wm" x="1159.0" y="1459.6"/>
<use href="#wm" x="1278.2" y="1459.6"/>
<use href="#wm" x="1397.4" y="1459.6"/>
<use href="#wm" x="-688.6" y="1503.7"/>
<use href="#wm" x="-569.4" y="1503.7"/>
<use href="#wm" x="-450.2" y="1503.7"/>
<use href="#wm" x="-331.0" y="1503.7"/>
<use href="#wm" x="-211.8" y="1503.7"/>
<use href="#wm" x="-92.6" y="1503.7"/>
<use href="#wm" x="26.6" y="1503.7"/>
<use href="#wm" x="145.8" y="1503.7"/>
<use href="#wm" x="265.0" y="1503.7"/>
<use href="#wm" x="384.2" y="1503.7"/>
<use href="#wm" x="503.4" y="1503.7"/>
<use href="#wm" x="622.6" y="1503.7"/>
<use href="#wm" x="741.8" y="1503.7"/>
<use href="#wm" x="861.0" y="1503.7"/>
<use href="#wm" x="980.2" y="1503.7"/>
<use href="#wm" x="1099.4" y="1503.7"/>
<use href="#wm" x="1218.6" y="1503.7"/>
<use href="#wm" x="1337.8" y="1503.7"/>
<use href="#wm" x="-629.0" y="1547.8"/>
<use href="#wm" x="-509.8" y="1547.8"/>
<use href="#wm" x="-390.6" y="1547.8"/>
<use href="#wm" x="-271.4" y="1547.8"/>
<use href="#wm" x="-152.2" y="1547.8"/>
<use href="#wm" x="-33.0" y="1547.8"/>
<use href="#wm" x="86.2" y="1547.8"/>
<use href="#wm" x="205.4" y="1547.8"/>
<use href="#wm" x="324.6" y="1547.8"/>
<use href="#wm" x="443.8" y="1547.8"/>
<use href="#wm" x="563.0" y="1547.8"/>
<use href="#wm" x="682.2" y="1547.8"/>
<use href="#wm" x="801.4" y="1547.8"/>
<use href="#wm" x="920.6" y="1547.8"/>
<use href="#wm" x="1039.8" y="1547.8"/>
<use href="#wm" x="1159.0" y="1547.8"/>
<use href="#wm" x="1278.2" y="1547.8"/>
<use href="#wm" x="1397.4" y="1547.8"/>
<use href="#wm" x="-688.6" y="1591.9"/>
<use href="#wm" x="-569.4" y="1591.9"/>
<use href="#wm" x="-450.2" y="1591.9"/>
<use href="#wm" x="-331.0" y="1591.9"/>
<use href="#wm" x="-211.8" y="1591.9"/>
<use href="#wm" x="-92.6" y="1591.9"/>
<use href="#wm" x="26.6" y="1591.9"/>
<use href="#wm" x="145.8" y="1591.9"/>
<use href="#wm" x="265.0" y="1591.9"/>
<use href="#wm" x="384.2" y="1591.9"/>
<use href="#wm" x="503.4" y="1591.9"/>
<use href="#wm" x="622.6" y="1591.9"/>
<use href="#wm" x="741.8" y="1591.9"/>
<use href="#wm" x="861.0" y="1591.9"/>
<use href="#wm" x="980.2" y="1591.9"/>
<use href="#wm" x="1099.4" y="1591.9"/>
<use href="#wm" x="1218.6" y="1591.9"/>
<use href="#wm" x="1337.8" y="1591.9"/>
<use href="#wm" x="-629.0" y="1636.0"/>
<use href="#wm" x="-509.8" y="1636.0"/>
<use href="#wm" x="-390.6" y="1636.0"/>
<use href="#wm" x="-271.4" y="1636.0"/>
<use href="#wm" x="-152.2" y="1636.0"/>
<use href="#wm" x="-33.0" y="1636.0"/>
<use href="#wm" x="86.2" y="1636.0"/>
<use href="#wm" x="205.4" y="1636.0"/>
<use href="#wm" x="324.6" y="1636.0"/>
<use href="#wm" x="443.8" y="1636.0"/>
<use href="#wm" x="563.0" y="1636.0"/>
<use href="#wm" x="682.2" y="1636.0"/>
<use href="#wm" x="801.4" y="1636.0"/>
<use href="#wm" x="920.6" y="1636.0"/>
<use href="#wm" x="1039.8" y="1636.0"/>
<use href="#wm" x="1159.0" y="1636.0"/>
<use href="#wm" x="1278.2" y="1636.0"/>
<use href="#wm" x="1397.4" y="1636.0"/>
<use href="#wm" x="-688.6" y="1680.1"/>
<use href="#wm" x="-569.4" y="1680.1"/>
<use href="#wm" x="-450.2" y="1680.1"/>
<use href="#wm" x="-331.0" y="1680.1"/>
<use href="#wm" x="-211.8" y="1680.1"/>
<use href="#wm" x="-92.6" y="1680.1"/>
<use href="#wm" x="26.6" y="1680.1"/>
<use href="#wm" x="145.8" y="1680.1"/>
<use href="#wm" x="265.0" y="1680.1"/>
<use href="#wm" x="384.2" y="1680.1"/>
<use href="#wm" x="503.4" y="1680.1"/>
<use href="#wm" x="622.6" y="1680.1"/>
<use href="#wm" x="741.8" y="1680.1"/>
<use href="#wm" x="861.0" y="1680.1"/>
<use href="#wm" x="980.2" y="1680.1"/>
<use href="#wm" x="1099.4" y="1680.1"/>
<use href="#wm" x="1218.6" y="1680.1"/>
<use href="#wm" x="1337.8" y="1680.1"/>
<use href="#wm" x="-629.0" y="1724.2"/>
<use href="#wm" x="-509.8" y="1724.2"/>
<use href="#wm" x="-390.6" y="1724.2"/>
<use href="#wm" x="-271.4" y="1724.2"/>
<use href="#wm" x="-152.2" y="1724.2"/>
<use href="#wm" x="-33.0" y="1724.2"/>
<use href="#wm" x="86.2" y="1724.2"/>
<use href="#wm" x="205.4" y="1724.2"/>
<use href="#wm" x="324.6" y="1724.2"/>
<use href="#wm" x="443.8" y="1724.2"/>
<use href="#wm" x="563.0" y="1724.2"/>
<use href="#wm" x="682.2" y="1724.2"/>
<use href="#wm" x="801.4" y="1724.2"/>
<use href="#wm" x="920.6" y="1724.2"/>
<use href="#wm" x="1039.8" y="1724.2"/>
<use href="#wm" x="1159.0" y="1724.2"/>
<use href="#wm" x="1278.2" y="1724.2"/>
<use href="#wm" x="1397.4" y="1724.2"/>
<use href="#wm" x="-688.6" y="1768.4"/>
<use href="#wm" x="-569.4" y="1768.4"/>
<use href="#wm" x="-450.2" y="1768.4"/>
<use href="#wm" x="-331.0" y="1768.4"/>
<use href="#wm" x="-211.8" y="1768.4"/>
<use href="#wm" x="-92.6" y="1768.4"/>
<use href="#wm" x="26.6" y="1768.4"/>
<use href="#wm" x="145.8" y="1768.4"/>
<use href="#wm" x="265.0" y="1768.4"/>
<use href="#wm" x="384.2" y="1768.4"/>
<use href="#wm" x="503.4" y="1768.4"/>
<use href="#wm" x="622.6" y="1768.4"/>
<use href="#wm" x="741.8" y="1768.4"/>
<use href="#wm" x="861.0" y="1768.4"/>
<use href="#wm" x="980.2" y="1768.4"/>
<use href="#wm" x="1099.4" y="1768.4"/>
<use href="#wm" x="1218.6" y="1768.4"/>
<use href="#wm" x="1337.8" y="1768.4"/>
<use href="#wm" x="-629.0" y="1812.5"/>
<use href="#wm" x="-509.8" y="1812.5"/>
<use href="#wm" x="-390.6" y="1812.5"/>
<use href="#wm" x="-271.4" y="1812.5"/>
<use href="#wm" x="-152.2" y="1812.5"/>
<use href="#wm" x="-33.0" y="1812.5"/>
<use href="#wm" x="86.2" y="1812.5"/>
<use href="#wm" x="205.4" y="1812.5"/>
<use href="#wm" x="324.6" y="1812.5"/>
<use href="#wm" x="443.8" y="1812.5"/>
<use href="#wm" x="563.0" y="1812.5"/>
<use href="#wm" x="682.2" y="1812.5"/>
<use href="#wm" x="801.4" y="1812.5"/>
<use href="#wm" x="920.6" y="1812.5"/>
<use href="#wm" x="1039.8" y="1812.5"/>
<use href="#wm" x="1159.0" y="1812.5"/>
<use href="#wm" x="1278.2" y="1812.5"/>
<use href="#wm" x="1397.4" y="1812.5"/>
<use href="#wm" x="-688.6" y="1856.6"/>
<use href="#wm" x="-569.4" y="1856.6"/>
<use href="#wm" x="-450.2" y="1856.6"/>
<use href="#wm" x="-331.0" y="1856.6"/>
<use href="#wm" x="-211.8" y="1856.6"/>
<use href="#wm" x="-92.6" y="1856.6"/>
<use href="#wm" x="26.6" y="1856.6"/>
<use href="#wm" x="145.8" y="1856.6"/>
<use href="#wm" x="265.0" y="1856.6"/>
<use href="#wm" x="384.2" y="1856.6"/>
<use href="#wm" x="503.4" y="1856.6"/>
<use href="#wm" x="622.6" y="1856.6"/>
<use href="#wm" x="741.8" y="1856.6"/>
<use href="#wm" x="861.0" y="1856.6"/>
<use href="#wm" x="980.2" y="1856.6"/>
<use href="#wm" x="1099.4" y="1856.6"/>
<use href="#wm" x="1218.6" y="1856.6"/>
<use href="#wm" x="1337.8" y="1856.6"/></g>
</g>
<g class="t" stroke="#000" stroke-width="0.4">
<text x="471" y="22.6" font-size="24">FIG.37</text>
<text x="1021.7" y="1174.5" font-size="18.5">RM250Y E02_037</text>
<text x="1029.2" y="1195" font-size="18.5">REAR CALIPER</text>
</g>

<g fill="none" stroke="#000" stroke-width="1.75" stroke-linecap="round" stroke-linejoin="round">
<path d="M524.5,252.5C521.88,251.12 512.62,246.75 508.75,244.25C504.88,241.75 503,239.62 501.25,237.5C499.5,235.38 498.88,234 498.25,231.5C497.62,229 497.88,226.5 497.5,222.5C497.12,218.5 496.48,212.5 496,207.5C495.52,202.5 494.7,197.5 494.6,192.5C494.5,187.5 494.73,183.75 495.4,177.5C496.07,171.25 497.68,160.93 498.6,155C499.52,149.07 499.96,145.33 500.9,141.9C501.84,138.47 502.32,137.65 504.25,134.4C506.18,131.15 509.25,126.47 512.5,122.4C515.75,118.33 520,114.4 523.75,110C527.5,105.6 531.46,99.67 535,96C538.54,92.33 541.67,90.15 545,88C548.33,85.85 552.08,84.06 555,83.1C557.92,82.14 560.21,82.03 562.5,82.25C564.79,82.47 560,80.87 568.75,84.4C577.5,87.93 599.58,97.1 615,103.45C630.42,109.8 649.17,118.45 661.25,122.5C673.33,126.55 681.5,126.12 687.5,127.75C693.5,129.38 694.88,130.38 697.25,132.25C699.62,134.12 700.88,136.62 701.75,139C702.62,141.38 702.75,144 702.5,146.5C702.25,149 701.75,150.25 700.25,154C698.75,157.75 695.88,164.25 693.5,169C691.12,173.75 688.25,179.08 686,182.5C683.75,185.92 682.17,187.83 680,189.5C677.83,191.17 675.5,192.21 673,192.5C670.5,192.79 672.42,194.17 665,191.25C657.58,188.33 636.83,177.61 628.5,175C620.17,172.39 618.67,175.37 615,175.6C611.33,175.83 609.33,176.92 606.5,176.4C603.67,175.88 600.75,173.82 598,172.5C595.25,171.18 592.67,169.33 590,168.5C587.33,167.67 584.17,167.5 582,167.5C579.83,167.5 581.5,166.33 577,168.5C572.5,170.67 561.67,176.25 555,180.5C548.33,184.75 542.75,189.25 537,194C531.25,198.75 523.25,206.5 520.5,209"/>
<path d="M547.75,234.5C547.62,234 547.38,232.88 547,231.5C546.62,230.12 546.88,228 545.5,226.25C544.12,224.5 543,223.75 538.75,221C534.5,218.25 524.88,212.5 520,209.75C515.12,207 512,206.12 509.5,204.5C507,202.88 505.79,203.25 505,200C504.21,196.75 504.5,190.33 504.75,185C505,179.67 505.83,173 506.5,168C507.17,163 508.18,158.42 508.75,155C509.32,151.58 508.96,150.62 509.9,147.5C510.84,144.38 512.09,140.32 514.4,136.25C516.71,132.18 520.44,127.47 523.75,123.1C527.06,118.72 530.71,114.06 534.25,110C537.79,105.94 540.71,102.29 545,98.75C549.29,95.21 556.25,90.62 560,88.75C563.75,86.88 557.5,84.21 567.5,87.5C577.5,90.79 602.29,101.52 620,108.5C637.71,115.48 664.79,125.92 673.75,129.4"/>
<path d="M532.75,230C533.12,230.5 534.88,231.5 535,233C535.12,234.5 535.12,235.88 533.5,239C531.88,242.12 527.25,248.5 525.25,251.75C523.25,255 522.5,256.12 521.5,258.5C520.5,260.88 519.38,263.5 519.25,266C519.12,268.5 519.38,271.25 520.75,273.5C522.12,275.75 525.12,277.88 527.5,279.5C529.88,281.12 532.5,283 535,283.25C537.5,283.5 540.25,282.38 542.5,281C544.75,279.62 547.5,276 548.5,275"/>
<path d="M547.75,234.5C548.12,236.25 549,241.75 550,245C551,248.25 553,250.88 553.75,254C554.5,257.12 554.88,261.25 554.5,263.75C554.12,266.25 552,268.12 551.5,269"/>
<polyline points="496.75,218.75 522.25,236"/>
<polyline points="498.25,224 504.25,230"/>
<polyline points="496,206 503.5,211.25"/>
<path d="M547,235.25C545.83,236.71 542.25,240.88 540,244C537.75,247.12 534.58,252.33 533.5,254"/>
<polyline points="544,246.5 547.75,242"/>
<path d="M530.5,269.75C530.75,268.62 531,265 532,263C533,261 534.5,258.88 536.5,257.75C538.5,256.62 542.12,256 544,256.25C545.88,256.5 547.12,258.75 547.75,259.25"/>
<path d="M544,271.25C543.12,271.38 540.12,272.62 538.75,272C537.38,271.38 535.88,269.25 535.75,267.5C535.62,265.75 536.88,263 538,261.5C539.12,260 541.75,259 542.5,258.5"/>
<path d="M533.5,266C533.75,264.88 534.75,260.38 535,259.25"/>
<path d="M532,275C532.75,274.75 536.75,276 538,276.5C539.25,277 540.25,277.75 539.5,278C538.75,278.25 534.75,278.5 533.5,278C532.25,277.5 531.25,275.25 532,275Z"/>
<polyline points="526.75,269 526.75,278.75"/>
<polyline points="546.25,268.25 647.7,325.1"/>
<polyline points="679.7,343.4 787,404.5"/>
<polyline points="800.1,411.9 926.7,485"/>
<polyline points="550,92.5 564,84.5"/>
<path d="M525.6,136.25C524.98,136.38 523.46,136.06 521.9,137C520.34,137.94 517.94,139.83 516.25,141.9C514.56,143.97 512.88,147.22 511.75,149.4C510.62,151.58 509.88,154.07 509.5,155"/>
<path d="M544,112C545.33,110.92 549,107.33 552,105.5C555,103.67 559.33,101.58 562,101C564.67,100.42 568,102 568,102C568,102 598.83,112.42 605,114.5"/>
<path d="M605,114.5C605.5,114.75 607.58,115.17 608,116C608.42,116.83 608.42,118.33 607.5,119.5C606.58,120.67 605,121.08 602.5,123C600,124.92 595.92,127.75 592.5,131C589.08,134.25 584.58,140.17 582,142.5C579.42,144.83 578.75,144.54 577,145C575.25,145.46 571.5,145.25 571.5,145.25C571.5,145.25 543,138.79 536.5,137C530,135.21 533.08,136 532.5,134.5C531.92,133 532.92,129.08 533,128"/>
<path d="M598,114.5C597.42,115.25 596.67,117 594.5,119C592.33,121 588,123.92 585,126.5C582,129.08 578.92,132.05 576.5,134.5C574.08,136.95 570.5,141.2 570.5,141.2C570.5,141.2 542.42,135.45 536.5,133.5C530.58,131.55 534.83,131.42 535,129.5C535.17,127.58 536,124.92 537.5,122C539,119.08 542.92,113.67 544,112"/>
<path d="M570,141.5C570.83,141.5 573.25,141.83 575,141.5C576.75,141.17 579.58,139.83 580.5,139.5"/>
<polyline points="563,97.25 601.5,111.25"/>
<path d="M559.5,97.25C558.08,97.96 553.67,99.71 551,101.5C548.33,103.29 544.75,106.92 543.5,108"/>
<path d="M529.4,140.75C531.27,140 527.83,139.6 533.1,141.1C538.37,142.6 561,149.75 561,149.75C561,149.75 560.25,151.38 559.5,153C558.75,154.62 561.75,155.79 556.5,159.5C551.25,163.21 533.33,172.75 528,175.25C522.67,177.75 524.5,174.5 524.5,174.5C524.5,174.5 511.5,170.75 509.5,168.5C507.5,166.25 511.38,163.25 512.5,161C513.62,158.75 514.68,157.57 516.25,155C517.82,152.43 519.71,147.97 521.9,145.6C524.09,143.22 527.53,141.5 529.4,140.75Z"/>
<path d="M567,147.1C567.43,147.79 569.23,149.56 569.6,151.25C569.98,152.94 570.18,155.38 569.25,157.25C568.32,159.12 569.62,158.62 564,162.5C558.38,166.38 540.88,177.43 535.5,180.5C530.12,183.57 536.12,182.08 531.75,180.9C527.38,179.72 513,174.65 509.25,173.4"/>
<path d="M562.5,149.75C563.12,150.38 565.88,151.75 566.25,153.5C566.62,155.25 565,159.12 564.75,160.25"/>
<path d="M519,201.5C521.75,199.25 530.12,192 535.5,188C540.88,184 544.5,181.62 551.25,177.5C558,173.38 570.62,165.75 576,163.25C581.38,160.75 578.67,161.21 583.5,162.5C588.33,163.79 601.42,169.58 605,171"/>
<path d="M669.5,148C661.88,145.5 632.5,135.75 623.75,133C615,130.25 621.62,129.5 617,131.5C612.38,133.5 600.08,142 596,145C591.92,148 592.5,148.25 592.5,149.5C592.5,150.75 592.67,151 596,152.5C599.33,154 606.5,157.5 612.5,158.5C618.5,159.5 622.62,156.12 632,158.5C641.38,160.88 662.62,170.38 668.75,172.75"/>
<polyline points="671,148.75 671,169"/>
<polyline points="669.5,135.25 670.6,140.5"/>
<polyline points="672.5,179.5 672.5,184.75"/>
<path d="M669.5,148C670.08,148.08 672.08,147.83 673,148.5C673.92,149.17 674.33,150.08 675,152C675.67,153.92 676.67,158.67 677,160"/>
<path d="M617,125C615.83,125.33 612.83,125.67 610,127C607.17,128.33 603.5,130.08 600,133C596.5,135.92 591,141.33 589,144.5C587,147.67 588.17,150.75 588,152"/>
<polyline points="623,128.1 638.75,134.5"/>
<path d="M590,154.75C594.12,156.25 608,162.31 614.75,163.75C621.5,165.19 624.25,162.03 630.5,163.4C636.75,164.78 648.62,170.57 652.25,172"/>
<ellipse cx="689" cy="151.75" rx="9.5" ry="4.5" transform="rotate(-50 689 151.75)"/>
<path d="M688.25,136.75C689.12,136.5 692,134.88 693.5,135.25C695,135.62 696.62,138.38 697.25,139"/>
<path d="M700.25,145C699.62,146.25 697.88,149.5 696.5,152.5C695.12,155.5 692.75,161.25 692,163"/>
<polyline points="586.25,50.6 586.25,89.4"/>
<text x="576.2" y="47.1" font-size="16" class="t" stroke="#000" stroke-width="0.35" fill="#000">14</text>
<path d="M440.6,197C439.98,196.72 438.25,195.38 436.9,195.3C435.55,195.22 433.82,195.8 432.5,196.5C431.18,197.2 429.87,198.25 429,199.5C428.13,200.75 427.6,202.42 427.3,204C427,205.58 426.85,207.62 427.2,209C427.55,210.38 428.48,211.33 429.4,212.3C430.32,213.27 431.9,213.93 432.7,214.8C433.5,215.67 433.95,217.05 434.2,217.5"/>
<path d="M431.5,197.2C432.17,197.38 434.08,198.25 435.5,198.3C436.92,198.35 439.25,197.63 440,197.5"/>
<path d="M428,207.5C429,207.72 433,208.58 434,208.8"/>
<polyline points="437.5,198.5 434,208.8"/>
<polyline points="434,208.8 434.7,216"/>
<path d="M440.6,197C441.54,196.9 444.6,196.23 446.25,196.4C447.9,196.57 449.32,197.12 450.5,198C451.68,198.88 452.76,200.37 453.3,201.7C453.84,203.03 453.88,204.2 453.75,206C453.62,207.8 453.59,210.32 452.5,212.5C451.41,214.68 448.87,217.62 447.2,219.1C445.53,220.58 444.07,221.02 442.5,221.4C440.93,221.78 439.18,222.05 437.8,221.4C436.42,220.75 434.8,218.15 434.2,217.5"/>
<polyline points="442,199.4 447.7,197"/>
<polyline points="435,213 435.5,218.1"/>
<path d="M446.5,205.6C448.08,206.42 452.83,208.8 456,210.5C459.17,212.2 463.92,214.92 465.5,215.8"/>
<path d="M448,219C449.17,219.5 452.75,221.08 455,222C457.25,222.92 460.42,224.08 461.5,224.5"/>
<ellipse cx="464.3" cy="220.3" rx="3" ry="4.7" transform="rotate(30 464.3 220.3)"/>
<path d="M444.5,205.8C444.17,206.42 442.67,207.97 442.5,209.5C442.33,211.03 442.78,213.55 443.5,215C444.22,216.45 446.25,217.67 446.8,218.2"/>
<path d="M447.5,206.3C447.2,207 445.87,208.97 445.7,210.5C445.53,212.03 445.87,213.95 446.5,215.5C447.13,217.05 449,219.08 449.5,219.8"/>
<path d="M451,207.8C450.7,208.5 449.37,210.47 449.2,212C449.03,213.53 449.45,215.5 450,217C450.55,218.5 452.08,220.33 452.5,221"/>
<path d="M454.5,209.5C454.22,210.17 452.97,212 452.8,213.5C452.63,215 452.97,217.03 453.5,218.5C454.03,219.97 455.58,221.67 456,222.3"/>
<path d="M458,211.5C457.72,212.17 456.47,214 456.3,215.5C456.13,217 456.47,219.15 457,220.5C457.53,221.85 459.08,223.08 459.5,223.6"/>
<path d="M461.5,213.5C461.22,214.17 459.97,216.08 459.8,217.5C459.63,218.92 460.05,220.83 460.5,222C460.95,223.17 462.17,224.08 462.5,224.5"/>
<polyline points="447.75,164.4 447.75,196.9"/>
<text x="438.7" y="157" font-size="16" class="t" stroke="#000" stroke-width="0.35" fill="#000">15</text>
<ellipse cx="478" cy="228.3" rx="14" ry="8.7" transform="rotate(-57 478 228.3)"/>
<path d="M468.3,236.5C468.47,235.08 468.43,230.67 469.3,228C470.17,225.33 471.8,222.5 473.5,220.5C475.2,218.5 477.5,216.83 479.5,216C481.5,215.17 484.5,215.58 485.5,215.5"/>
<ellipse cx="479.1" cy="228.8" rx="7.1" ry="3.9" transform="rotate(-57 479.1 228.8)"/>
<path d="M476.5,233C476.68,232.08 476.85,229.08 477.6,227.5C478.35,225.92 480.43,224.17 481,223.5"/>
<polyline points="476.25,241.9 476.25,268.1"/>
<text x="468.7" y="283.25" font-size="16" class="t" stroke="#000" stroke-width="0.35" fill="#000">16</text>
<path d="M724.6,121.6C724.02,121.45 722.55,120.42 721.1,120.7C719.65,120.98 717.28,121.98 715.9,123.3C714.52,124.62 713.32,126.92 712.8,128.6C712.28,130.28 712.28,131.95 712.8,133.4C713.32,134.85 714.52,136.07 715.9,137.3C717.28,138.53 719.5,139.78 721.1,140.8C722.7,141.82 724.18,142.82 725.5,143.4C726.82,143.98 728.42,144.15 729,144.3"/>
<path d="M724.6,121.6C725.33,122.1 727.39,123.66 729,124.6C730.61,125.54 732.93,126.15 734.25,127.25C735.57,128.35 736.54,129.74 736.9,131.2C737.26,132.66 736.98,134.25 736.4,136C735.82,137.75 734.63,140.32 733.4,141.7C732.17,143.08 729.73,143.87 729,144.3"/>
<path d="M728.6,126C728.17,126.42 726.72,127.33 726,128.5C725.28,129.67 724.58,131.42 724.3,133C724.02,134.58 724.1,136.58 724.3,138C724.5,139.42 724.72,140.45 725.5,141.5C726.28,142.55 728.42,143.83 729,144.3"/>
<path d="M725,122.9C724.25,123.33 721.67,124.42 720.5,125.5C719.33,126.58 718.5,127.98 718,129.4C717.5,130.82 717.35,132.47 717.5,134C717.65,135.53 718.67,137.83 718.9,138.6"/>
<path d="M727.25,125C726.62,125.42 724.52,126.54 723.5,127.5C722.48,128.46 721.55,129.42 721.1,130.75C720.65,132.08 720.65,133.89 720.8,135.5C720.95,137.11 721.8,139.58 722,140.4"/>
<path d="M726.8,134.25C726.53,134.46 725.57,134.96 725.2,135.5C724.83,136.04 724.7,137.17 724.6,137.5"/>
<polyline points="724.4,83.1 724.6,121.6"/>
<text x="715.55" y="77.6" font-size="16" class="t" stroke="#000" stroke-width="0.35" fill="#000">10</text>
<path d="M765.75,149.1C764.88,147.93 762.46,143.85 760.5,142.1C758.54,140.35 755.75,139.55 754,138.6C752.25,137.65 751.25,136.62 750,136.4C748.75,136.18 747.82,136.49 746.5,137.3C745.18,138.11 743.27,139.57 742.1,141.25C740.93,142.93 739.72,146.01 739.5,147.4C739.28,148.79 739.85,148.43 740.8,149.6C741.75,150.77 743.38,153.02 745.2,154.4C747.03,155.78 749.57,157.03 751.75,157.9C753.93,158.77 756.84,159.53 758.3,159.6C759.76,159.67 760.13,158.52 760.5,158.3"/>
<polyline points="765,150 829,187"/>
<polyline points="760,159 825,196.5"/>
<path d="M829,187C829.5,187.5 831.42,188.83 832,190C832.58,191.17 832.83,192.92 832.5,194C832.17,195.08 831.25,196.08 830,196.5C828.75,196.92 825.83,196.5 825,196.5"/>
<polyline points="826.5,190 828.5,189"/>
<polyline points="828.5,194 829.5,195.5"/>
<path d="M758,155C758.17,154.5 758.25,152.92 759,152C759.75,151.08 761.5,149.83 762.5,149.5C763.5,149.17 764.58,149.92 765,150"/>
<path d="M748.5,137.2C747.83,137.75 745.45,139.12 744.5,140.5C743.55,141.88 742.92,143.75 742.8,145.5C742.68,147.25 743.1,149.33 743.8,151C744.5,152.67 746.47,154.75 747,155.5"/>
<path d="M751.5,138.5C750.88,139.05 748.63,140.47 747.8,141.8C746.97,143.13 746.55,144.8 746.5,146.5C746.45,148.2 746.83,150.33 747.5,152C748.17,153.67 750,155.75 750.5,156.5"/>
<path d="M754.5,140C753.92,140.58 751.78,142.17 751,143.5C750.22,144.83 749.83,146.42 749.8,148C749.77,149.58 750.18,151.42 750.8,153C751.42,154.58 753.05,156.75 753.5,157.5"/>
<path d="M757.8,141.5C757.25,142.08 755.25,143.67 754.5,145C753.75,146.33 753.35,147.92 753.3,149.5C753.25,151.08 753.67,152.95 754.2,154.5C754.73,156.05 756.12,158.08 756.5,158.8"/>
<path d="M762.7,145.6C762.17,146 760.23,146.93 759.5,148C758.77,149.07 758.5,150.17 758.3,152C758.1,153.83 758.3,157.83 758.3,159"/>
<polyline points="724.4,83.1 724.6,121.6"/>
<polyline points="792.5,133.75 792.5,165"/>
<text x="783.05" y="129.5" font-size="16" class="t" stroke="#000" stroke-width="0.35" fill="#000">11</text>
<path d="M645.9,249.5C645.71,248.58 645.73,245.67 644.75,244C643.77,242.33 641.79,240.45 640,239.5C638.21,238.55 636.08,238.38 634,238.3C631.92,238.22 629.67,238.05 627.5,239C625.33,239.95 622.75,242 621,244C619.25,246 617.75,248.67 617,251C616.25,253.33 616.25,255.83 616.5,258C616.75,260.17 617.04,261.79 618.5,264C619.96,266.21 623,270.17 625.25,271.25C627.5,272.33 630.04,271.12 632,270.5C633.96,269.88 636.17,268 637,267.5"/>
<path d="M620,248.5C620.5,247.75 621.83,245.33 623,244C624.17,242.67 626.33,241.08 627,240.5"/>
<polyline points="631.25,243.5 637.25,241"/>
<path d="M633.5,250.25C634.5,250.25 637.25,249.62 639.5,250.25C641.75,250.88 644.25,252.62 647,254C649.75,255.38 653.5,257.12 656,258.5C658.5,259.88 661,261.62 662,262.25"/>
<path d="M633.5,250.25C632.92,250.96 630.7,252.88 630,254.5C629.3,256.12 629.05,258.17 629.3,260C629.55,261.83 630.17,264.25 631.5,265.5C632.83,266.75 634.67,266.17 637.25,267.5C639.83,268.83 643.62,272.12 647,273.5C650.38,274.88 655.75,275.38 657.5,275.75"/>
<path d="M662,262.25C661.63,262.88 660.32,264.62 659.8,266C659.28,267.38 658.95,268.92 658.9,270.5C658.85,272.08 659.4,274.67 659.5,275.5"/>
<path d="M637,251C636.5,251.75 634.53,253.83 634,255.5C633.47,257.17 633.47,259.17 633.8,261C634.13,262.83 635.63,265.58 636,266.5"/>
<path d="M640.5,251.8C640.02,252.58 638.12,254.8 637.6,256.5C637.08,258.2 637.08,260 637.4,262C637.72,264 639.15,267.42 639.5,268.5"/>
<path d="M644,253C643.5,253.75 641.53,255.83 641,257.5C640.47,259.17 640.47,260.92 640.8,263C641.13,265.08 642.63,268.83 643,270"/>
<path d="M647.5,254.5C647.02,255.25 645.12,257.33 644.6,259C644.08,260.67 644.08,262.25 644.4,264.5C644.72,266.75 646.15,271.17 646.5,272.5"/>
<path d="M651,256.3C650.53,257 648.7,258.88 648.2,260.5C647.7,262.12 647.7,263.78 648,266C648.3,268.22 649.67,272.5 650,273.8"/>
<path d="M654.5,258C654.05,258.67 652.3,260.42 651.8,262C651.3,263.58 651.3,265.37 651.5,267.5C651.7,269.63 652.75,273.58 653,274.8"/>
<polyline points="663.5,264.5 707.25,289.25 707.5,296.25 715,302.5"/>
<polyline points="703.25,295.25 707.5,296.25"/>
<polyline points="657.5,275.75 698.75,299.75 702.5,300.5"/>
<polyline points="699.5,293.25 698.5,299.5"/>
<polyline points="684.1,237.5 684.1,275"/>
<text x="680.2" y="234.4" font-size="16" class="t" stroke="#000" stroke-width="0.35" fill="#000">8</text>
<path d="M797,256C799.25,253 806.5,243.5 810.5,238C814.5,232.5 818.38,226.25 821,223C823.62,219.75 823.75,219.68 826.25,218.5C828.75,217.32 833.62,216.22 836,215.9C838.38,215.58 837.75,215.67 840.5,216.6C843.25,217.53 846.75,218.56 852.5,221.5C858.25,224.44 867.33,230 875,234.25C882.67,238.5 894.58,244.88 898.5,247"/>
<path d="M852,218.5C851,218 847.58,216.75 846,215.5C844.42,214.25 842.75,213.25 842.5,211C842.25,208.75 843.04,204.38 844.5,202C845.96,199.62 849.12,197.5 851.25,196.75C853.38,196 852,195.12 857.25,197.5C862.5,199.88 878,208.12 882.75,211C887.5,213.88 885.19,213 885.75,214.75C886.31,216.5 886.85,217.88 886.1,221.5C885.35,225.12 882.06,234 881.25,236.5"/>
<polyline points="852,218.5 855,215"/>
<polyline points="879,211.75 882,211"/>
<path d="M882,217.75C881,218.12 877.12,218.88 876,220C874.88,221.12 875.12,223.38 875.25,224.5C875.38,225.62 876.5,226.38 876.75,226.75"/>
<path d="M898.5,247C900,244.75 905,236.5 907.5,233.5C910,230.5 911.75,229.75 913.5,229C915.25,228.25 914.5,227.25 918,229C921.5,230.75 931.12,237.25 934.5,239.5C937.88,241.75 937.38,241 938.25,242.5C939.12,244 940.62,245.08 939.75,248.5C938.88,251.92 934.83,259 933,263C931.17,267 928.83,269.42 928.75,272.5C928.67,275.58 932.12,278.5 932.5,281.5C932.88,284.5 932.25,288.88 931,290.5C929.75,292.12 926.88,291.62 925,291.25C923.12,290.88 921.25,289.38 919.75,288.25C918.25,287.12 917.62,285 916,284.5C914.38,284 912.25,284.25 910,285.25C907.75,286.25 905,288.25 902.5,290.5C900,292.75 897.12,295.5 895,298.75C892.88,302 890.88,306.25 889.75,310C888.62,313.75 888.38,317.88 888.25,321.25C888.12,324.62 888,327.38 889,330.25C890,333.12 893.12,336.5 894.25,338.5C895.38,340.5 895.75,340.75 895.75,342.25C895.75,343.75 895.38,346.25 894.25,347.5C893.12,348.75 890.88,349.62 889,349.75C887.12,349.88 885.75,349.62 883,348.25C880.25,346.88 877.75,345.38 872.5,341.5C867.25,337.62 857.75,329.12 851.5,325C845.25,320.88 839.46,318.88 835,316.75C830.54,314.62 826.46,313 824.75,312.25"/>
<polyline points="926,243 930,240"/>
<path d="M935.25,247C934.38,247.38 931.12,248.12 930,249.25C928.88,250.38 928.38,252.62 928.5,253.75C928.62,254.88 930.38,255.62 930.75,256"/>
<path d="M764.75,277C764.62,276.25 764.12,274.5 764,272.5C763.88,270.5 763.38,266.62 764,265C764.62,263.38 764.25,264.62 767.75,262.75C771.25,260.88 781.38,255.19 785,253.75C788.62,252.31 788.12,253.72 789.5,254.1C790.88,254.47 792,255.68 793.25,256C794.5,256.32 796.38,256 797,256"/>
<polyline points="776.75,267.25 786.5,272.5"/>
<path d="M786.5,272.5C786.42,273.42 786.25,276 786,278C785.75,280 785.17,283.42 785,284.5"/>
<ellipse cx="771.8" cy="274.6" rx="3.3" ry="4.8" transform="rotate(15 771.8 274.6)"/>
<polyline points="766.25,279.25 768.5,281"/>
<polyline points="771.5,283.75 774.5,284.9"/>
<polyline points="830,225.25 797.75,268.75"/>
<polyline points="792.5,253.75 801.5,241.75"/>
<path d="M804.5,238.75C805.25,238.88 808.12,239 809,239.5C809.88,240 809.62,241.38 809.75,241.75"/>
<path d="M779,280.75C777.5,282.88 773.38,288.62 770,293.5C766.62,298.38 762.12,304.5 758.75,310C755.38,315.5 751.62,322.12 749.75,326.5C747.88,330.88 747.62,333.5 747.5,336.25C747.38,339 747.75,341.12 749,343C750.25,344.88 752.23,345.92 755,347.5C757.77,349.08 761.95,351.04 765.6,352.5C769.25,353.96 773.46,356.25 776.9,356.25C780.34,356.25 777.9,358.83 786.25,352.5C794.6,346.17 827,318.25 827,318.25C827,318.25 834,322.38 837.5,323.5C841,324.62 845.67,324.75 848,325C850.33,325.25 850.92,325 851.5,325"/>
<path d="M788,338.5C787.88,337.25 788,332.5 787.25,331C786.5,329.5 785.12,329.38 783.5,329.5C781.88,329.62 779.25,330.5 777.5,331.75C775.75,333 773.88,334.88 773,337C772.12,339.12 771.75,342.38 772.25,344.5C772.75,346.62 774.12,349.25 776,349.75C777.88,350.25 782.25,347.88 783.5,347.5"/>
<path d="M768.5,339.25C768.12,340.62 766.5,344.88 766.25,347.5C766,350.12 766.88,353.75 767,355"/>
<polyline points="854.75,254.5 835,283"/>
<polyline points="857.25,262 847,277"/>
<polyline points="859.25,254.5 860.75,258.25"/>
<polyline points="789.5,278.5 824,295.75"/>
<polyline points="788.75,292 808.25,302.5"/>
<path d="M799.25,310C800.25,309.25 802.75,306.25 805.25,305.5C807.75,304.75 812.75,305.5 814.25,305.5"/>
<path d="M846,299C847.67,299.83 852.58,301.67 856,304C859.42,306.33 864.75,311.5 866.5,313"/>
<polyline points="842.25,307.75 853.5,314"/>
<polyline points="859,285.25 883,299.5"/>
<polyline points="886,292 889,288.25"/>
<polyline points="874.75,312.25 877,308.5"/>
<path d="M872.25,266.5C874.29,267.25 881.08,268.62 884.5,271C887.92,273.38 891.38,279.12 892.75,280.75"/>
<polyline points="873,266.5 884,270"/>
<polyline points="902.5,273.25 907,266.5"/>
<polyline points="882.75,252.25 895.5,259"/>
<polyline points="898.5,260.5 903,257.5"/>
<path d="M906,254.5C907,254.5 910.12,253.62 912,254.5C913.88,255.38 915.88,258.88 917.25,259.75C918.62,260.62 919.75,259.75 920.25,259.75"/>
<polyline points="898.5,247 904.5,252.25"/>
<path d="M898.75,307.75C899.88,308.38 906.62,308.75 905.5,311.5C904.38,314.25 894.25,322.12 892,324.25"/>
<polyline points="727,307.25 747.6,319.8"/>
<polyline points="668.4,336 709.6,312.7"/>
<polyline points="722,303.75 766.25,277.75"/>
<polyline points="868,345 799.5,403.9"/>
<polyline points="787,414.75 662.5,522"/>
<polyline points="649,533.7 499.2,662.3 522.8,676.75"/>
<circle cx="602.8" cy="372.6" r="1.7"/>
<path d="M601.9,374.4C601.79,373.67 600.83,371.57 601.25,370C601.67,368.43 603.26,366.15 604.4,365C605.54,363.85 607.48,363.42 608.1,363.1"/>
<path d="M607.5,361.9C608.25,361.42 610.43,359.83 612,359C613.57,358.17 615.57,357.15 616.9,356.9C618.23,356.65 619.07,357.61 620,357.5C620.93,357.39 620.42,357.18 622.5,356.25C624.58,355.32 630.32,352.62 632.5,351.9C634.68,351.17 634.67,351.38 635.6,351.9C636.53,352.42 637.78,353.86 638.1,355C638.42,356.14 638.23,357.5 637.5,358.75C636.77,360 635.83,360.94 633.75,362.5C631.67,364.06 627.5,366.43 625,368.1C622.5,369.77 620.62,371.45 618.75,372.5C616.88,373.55 615.21,373.77 613.75,374.4C612.29,375.02 611.46,375.94 610,376.25C608.54,376.56 606.35,376.56 605,376.25C603.65,375.94 602.42,374.71 601.9,374.4"/>
<path d="M607.5,363.75C608.12,363.64 610,362.48 611.25,363.1C612.5,363.73 614.58,365.83 615,367.5C615.42,369.17 614.5,371.77 613.75,373.1C613,374.43 611.04,375.1 610.5,375.5"/>
<path d="M609,365C609.58,365.5 612,366.58 612.5,368C613,369.42 612.08,372.58 612,373.5"/>
<polyline points="615.6,360 620,357.5"/>
<polyline points="617,369 618.75,373.75"/>
<polyline points="617.5,368.75 624.4,367.5"/>
<path d="M624.5,357C624.28,357.58 623.32,359.08 623.2,360.5C623.08,361.92 623.7,364.67 623.8,365.5"/>
<path d="M627.5,355.5C627.28,356.17 626.32,358 626.2,359.5C626.08,361 626.7,363.67 626.8,364.5"/>
<path d="M630.2,354C629.98,354.67 629.02,356.47 628.9,358C628.78,359.53 629.4,362.33 629.5,363.2"/>
<path d="M633,352.6C632.77,353.25 631.73,354.97 631.6,356.5C631.47,358.03 632.1,360.92 632.2,361.8"/>
<path d="M635.8,352.3C635.57,352.92 634.53,354.63 634.4,356C634.27,357.37 634.9,359.75 635,360.5"/>
<polyline points="618.5,373.75 618.5,408.25"/>
<text x="609.9" y="424.9" font-size="16" class="t" stroke="#000" stroke-width="0.35" fill="#000">12</text>
<path d="M662.5,353.75C662.92,353.02 664.48,350.96 665,349.4C665.52,347.84 665.81,346.17 665.6,344.4C665.39,342.62 664.68,340.52 663.75,338.75C662.82,336.98 661.46,334.94 660,333.75C658.54,332.56 656.67,331.71 655,331.6C653.33,331.49 651.25,332.12 650,333.1C648.75,334.08 647.82,335.73 647.5,337.5C647.18,339.27 647.27,341.46 648.1,343.75C648.93,346.04 651.62,349.17 652.5,351.25C653.38,353.33 653.4,352.5 653.4,356.25C653.4,360 653.38,370.11 652.5,373.75C651.62,377.39 648.93,376.33 648.1,378.1C647.27,379.88 647.18,382.52 647.5,384.4C647.82,386.28 648.75,387.84 650,389.4C651.25,390.96 653.33,392.92 655,393.75C656.67,394.58 658.23,394.82 660,394.4C661.77,393.98 663.73,392.4 665.6,391.25C667.48,390.1 670,389.17 671.25,387.5C672.5,385.83 672.99,383.23 673.1,381.25C673.21,379.27 672.93,377.16 671.9,375.6C670.87,374.04 668.26,372.42 666.9,371.9C665.54,371.38 664.27,372.4 663.75,372.5"/>
<ellipse cx="656.4" cy="342" rx="3.2" ry="5.6" transform="rotate(-25 656.4 342)"/>
<path d="M653.5,338C653.48,339 652.98,342.42 653.4,344C653.82,345.58 655.07,346.87 656,347.5C656.93,348.13 658.5,347.75 659,347.8"/>
<polyline points="661.25,354.4 661.9,370"/>
<polyline points="662.5,353.1 663.1,368.75"/>
<polyline points="662.5,372.5 667.5,387.5"/>
<path d="M652.5,381.25C653.12,381.04 655.1,379.79 656.25,380C657.4,380.21 658.67,381.25 659.4,382.5C660.12,383.75 660.4,386.67 660.6,387.5"/>
<polyline points="658.3,396.6 658.3,427.5"/>
<text x="649.8" y="444.2" font-size="16" class="t" stroke="#000" stroke-width="0.35" fill="#000">13</text>
<path d="M948.75,327.5C948.33,327.08 948.12,326.25 946.25,325C944.38,323.75 940.21,320.93 937.5,320C934.79,319.07 932.29,318.98 930,319.4C927.71,319.82 925.62,320.73 923.75,322.5C921.88,324.27 919.58,327.58 918.75,330C917.92,332.42 918.12,335.12 918.75,337C919.38,338.88 920.62,339.29 922.5,341.25C924.38,343.21 927.92,347.5 930,348.75C932.08,350 934.17,348.75 935,348.75"/>
<path d="M935,335C934.79,335.83 933.75,337.71 933.75,340C933.75,342.29 934.79,347.29 935,348.75"/>
<path d="M948.75,327.5C950.21,328.54 955.21,332.71 957.5,333.75C959.79,334.79 961.67,333.75 962.5,333.75"/>
<path d="M935,348.75C936.17,349.29 939.5,350.96 942,352C944.5,353.04 948.67,354.5 950,355"/>
<ellipse cx="962.8" cy="349.4" rx="13.2" ry="16.2" transform="rotate(20 962.8 349.4)"/>
<path d="M955,340C954.58,341 952.92,343.5 952.5,346C952.08,348.5 951.92,352.33 952.5,355C953.08,357.67 955.42,360.83 956,362"/>
<ellipse cx="966.9" cy="352.5" rx="4.6" ry="6.6" transform="rotate(30 966.9 352.5)"/>
<ellipse cx="966.9" cy="352.5" rx="2.6" ry="4.4" transform="rotate(30 966.9 352.5)"/>
<polyline points="923,324 925.5,322"/>
<polyline points="941,323 944,322.5"/>
<polyline points="965.6,292.5 965.6,333.75"/>
<text x="960.4" y="287.6" font-size="16" class="t" stroke="#000" stroke-width="0.35" fill="#000">5</text>
<path d="M991.25,361.9C990.79,362 989.16,361.9 988.5,362.5C987.84,363.1 987.37,364.46 987.3,365.5C987.23,366.54 987.97,368.21 988.1,368.75"/>
<polyline points="991.25,361.9 1021.1,376.1"/>
<polyline points="988.1,368.75 1015.7,385.1"/>
<path d="M1015.7,395.5C1015.65,394.12 1015.33,389.3 1015.4,387.2C1015.47,385.1 1015.45,384.33 1016.1,382.9C1016.75,381.47 1017.93,380.15 1019.3,378.6C1020.67,377.05 1022.52,374.73 1024.3,373.6C1026.08,372.47 1028.08,371.92 1030,371.8C1031.92,371.68 1033.88,372.12 1035.8,372.9C1037.72,373.68 1040.13,375.07 1041.5,376.5C1042.87,377.93 1043.52,379.83 1044,381.5C1044.48,383.17 1044.48,385 1044.4,386.5C1044.32,388 1043.65,389.83 1043.5,390.5"/>
<path d="M1036.9,398.3C1036,399.02 1033.23,401.82 1031.5,402.6C1029.77,403.38 1027.87,403.3 1026.5,403C1025.13,402.7 1023.9,402.35 1023.3,400.8C1022.7,399.25 1022.73,395.97 1022.9,393.7C1023.07,391.43 1023.47,389.35 1024.3,387.2C1025.13,385.05 1026.58,382.53 1027.9,380.8C1029.22,379.07 1030.65,377.82 1032.2,376.8C1033.75,375.78 1036.37,375.05 1037.2,374.7"/>
<path d="M1015.7,395.5C1016.42,396.27 1018.62,399.02 1020,400.1C1021.38,401.18 1023.33,401.68 1024,402"/>
<polyline points="1024,375.4 1029.4,378.3"/>
<polyline points="1015.7,389.4 1022.5,391.9"/>
<polyline points="1035,385.1 1050.5,393.3"/>
<polyline points="1036.9,398.3 1045.8,402.3"/>
<ellipse cx="1047.8" cy="397.6" rx="2.9" ry="4.6" transform="rotate(30 1047.8 397.6)"/>
<path d="M1035,385.1C1034.42,385.33 1032.25,385.6 1031.5,386.5C1030.75,387.4 1030.33,389.08 1030.5,390.5C1030.67,391.92 1031.43,393.7 1032.5,395C1033.57,396.3 1036.17,397.75 1036.9,398.3"/>
<path d="M1038.5,387C1038.03,387.42 1036.2,388.42 1035.7,389.5C1035.2,390.58 1035.2,392.08 1035.5,393.5C1035.8,394.92 1037.17,397.25 1037.5,398"/>
<path d="M1042,389C1041.58,389.42 1039.95,390.42 1039.5,391.5C1039.05,392.58 1039.05,394.08 1039.3,395.5C1039.55,396.92 1040.72,399.25 1041,400"/>
<path d="M1045.5,391C1045.12,391.42 1043.62,392.42 1043.2,393.5C1042.78,394.58 1042.78,396.17 1043,397.5C1043.22,398.83 1044.25,400.83 1044.5,401.5"/>
<polyline points="1015,340 1015,373.75"/>
<text x="1010.95" y="335.75" font-size="16" class="t" stroke="#000" stroke-width="0.35" fill="#000">6</text>
<path d="M869,408C868.83,407.08 868.58,404.17 868,402.5C867.42,400.83 865.83,399.83 865.5,398C865.17,396.17 865.33,393.58 866,391.5C866.67,389.42 868.17,386.92 869.5,385.5C870.83,384.08 872.67,383.33 874,383C875.33,382.67 876,383.67 877.5,383.5C879,383.33 880.92,382.38 883,382C885.08,381.62 887.75,380.92 890,381.25C892.25,381.58 894.75,382.88 896.5,384C898.25,385.12 899.58,386.5 900.5,388C901.42,389.5 901.5,391.5 902,393C902.5,394.5 903.17,395.17 903.5,397C903.83,398.83 904.33,401.75 904,404C903.67,406.25 902.58,408.67 901.5,410.5C900.42,412.33 899.42,413.92 897.5,415C895.58,416.08 893.33,416.58 890,417C886.67,417.42 880.5,418 877.5,417.5C874.5,417 873.42,415.58 872,414C870.58,412.42 869.5,409 869,408"/>
<path d="M874.5,384.5C873.58,385.58 870.17,388.75 869,391C867.83,393.25 867.75,396.83 867.5,398"/>
<path d="M881,383.5C879.42,385.25 873.5,390.83 871.5,394C869.5,397.17 869.42,401.08 869,402.5"/>
<path d="M884,383C882.67,384.5 878.17,388.83 876,392C873.83,395.17 871.92,399.17 871,402C870.08,404.83 870.17,406.92 870.5,409C870.83,411.08 872.58,413.58 873,414.5"/>
<path d="M881,394.5C880.42,395.42 878.17,396.92 877.5,400C876.83,403.08 877.08,410.83 877,413"/>
<ellipse cx="894" cy="404.5" rx="9.8" ry="11.6" transform="rotate(15 894 404.5)"/>
<path d="M883,407C883.5,405.5 884.5,400.25 886,398C887.5,395.75 891,394.25 892,393.5"/>
<path d="M885.5,410C885.92,408.5 886.67,403.25 888,401C889.33,398.75 892.58,397.25 893.5,396.5"/>
<ellipse cx="895" cy="405.5" rx="7.3" ry="3.8" transform="rotate(-54 895 405.5)"/>
<path d="M895.5,399C896.08,398.92 898.17,398.08 899,398.5C899.83,398.92 900.25,401 900.5,401.5"/>
<polyline points="883,413 915.5,413"/>
<text x="940.95" y="409.5" font-size="16" class="t" stroke="#000" stroke-width="0.35" fill="#000">7</text>
<path d="M1083.25,396.25C1082.5,395.5 1079.75,393.38 1078.75,391.75C1077.75,390.12 1077.38,388.5 1077.25,386.5C1077.12,384.5 1077.12,381.88 1078,379.75C1078.88,377.62 1080.75,375.25 1082.5,373.75C1084.25,372.25 1086.62,371.44 1088.5,370.75C1090.38,370.06 1092,369.48 1093.75,369.6C1095.5,369.73 1094.62,369.43 1099,371.5C1103.38,373.57 1115.75,379.62 1120,382C1124.25,384.38 1123.38,384.38 1124.5,385.75C1125.62,387.12 1126.5,388.38 1126.75,390.25C1127,392.12 1126.62,394.62 1126,397C1125.38,399.38 1124.75,402.12 1123,404.5C1121.25,406.88 1119,406.12 1115.5,411.25C1112,416.38 1104.5,430.25 1102,435.25C1099.5,440.25 1100.75,440.25 1100.5,441.25"/>
<path d="M1088.5,372.25C1087.38,373.75 1083.12,378.5 1081.75,381.25C1080.38,384 1080.5,387.5 1080.25,388.75"/>
<ellipse cx="1117.75" cy="399.5" rx="7.6" ry="10.8" transform="rotate(25 1117.75 399.5)"/>
<ellipse cx="1118.3" cy="400" rx="2.6" ry="5" transform="rotate(25 1118.3 400)" stroke-width="2.6"/>
<polyline points="1118,384 1123,383.5"/>
<path d="M1095.25,388.75C1093.12,390.38 1087.12,394.12 1082.5,398.5C1077.88,402.88 1071.88,410 1067.5,415C1063.12,420 1060,423.5 1056.25,428.5C1052.5,433.5 1048.26,441.13 1045,445C1041.74,448.87 1038.08,450.58 1036.7,451.7"/>
<path d="M1028.3,452.5C1029.7,452.5 1033.22,453.05 1036.7,452.5C1040.18,451.95 1047.12,449.75 1049.2,449.2"/>
<path d="M1087,411C1086.17,411.92 1083.08,414.33 1082,416.5C1080.92,418.67 1080.33,421.58 1080.5,424C1080.67,426.42 1081.75,429.25 1083,431C1084.25,432.75 1086.17,434 1088,434.5C1089.83,435 1092.25,434.83 1094,434C1095.75,433.17 1097.42,431.67 1098.5,429.5C1099.58,427.33 1100.5,423.58 1100.5,421C1100.5,418.42 1099.58,415.67 1098.5,414C1097.42,412.33 1095.5,411.58 1094,411C1092.5,410.42 1090.25,410.58 1089.5,410.5"/>
<path d="M1084,415C1083.5,415.83 1081.5,418.17 1081,420C1080.5,421.83 1081,425 1081,426"/>
<ellipse cx="1093.4" cy="424" rx="2.4" ry="5" transform="rotate(25 1093.4 424)" stroke-width="2.6"/>
<polyline points="1097.5,401.5 1087.75,409"/>
<path d="M1102.75,403C1103.04,403.83 1103.75,406.5 1104.5,408C1105.25,409.5 1106.54,411.08 1107.25,412C1107.96,412.92 1108.5,413.25 1108.75,413.5"/>
<polyline points="1108.75,413.5 1113,411.5"/>
<path d="M1101.7,435C1102.25,434.87 1102.23,434.48 1105,434.2C1107.77,433.92 1112.05,430.95 1118.3,433.3C1124.55,435.65 1136.93,444.4 1142.5,448.3C1148.07,452.2 1149.62,453.92 1151.7,456.7C1153.78,459.48 1154.32,461.67 1155,465C1155.68,468.33 1156.08,472.82 1155.8,476.7C1155.52,480.58 1154.82,484.13 1153.3,488.3C1151.78,492.47 1148.92,498.37 1146.7,501.7C1144.48,505.03 1142.92,505.8 1140,508.3C1137.08,510.8 1132.33,514.33 1129.2,516.7C1126.08,519.07 1123.62,520.28 1121.25,522.5C1118.88,524.72 1116.04,528.75 1115,530"/>
<path d="M1101.7,435C1101.42,435.97 1100.28,438.58 1100,440.8C1099.72,443.02 1099.45,446.48 1100,448.3C1100.55,450.12 1099.27,450.58 1103.3,451.7C1107.33,452.82 1120.72,454.45 1124.2,455"/>
<path d="M1101.7,448.3C1107.8,449.28 1131.5,452.95 1138.3,454.2C1145.1,455.45 1139.85,454.42 1142.5,455.8C1145.15,457.18 1152.25,461.38 1154.2,462.5"/>
<path d="M1138.3,455.8C1135.8,457.05 1127.18,460.1 1123.3,463.3C1119.42,466.5 1117.5,469.43 1115,475C1112.5,480.57 1109.42,493.08 1108.3,496.7"/>
<path d="M1135.8,457.5C1133.17,459.45 1123.6,464.75 1120,469.2C1116.4,473.65 1115.17,481.7 1114.2,484.2"/>
<path d="M1148.3,473.3C1147.62,472.33 1146,468.47 1144.2,467.5C1142.4,466.53 1140.42,466.25 1137.5,467.5C1134.58,468.75 1129.48,471.95 1126.7,475C1123.92,478.05 1121.92,481.92 1120.8,485.8C1119.68,489.68 1119.17,495.1 1120,498.3C1120.83,501.5 1123.58,504.02 1125.8,505C1128.02,505.98 1130.65,505.58 1133.3,504.2C1135.95,502.82 1140.3,497.95 1141.7,496.7"/>
<path d="M1146,470.5C1145,470.13 1142.67,467.97 1140,468.3C1137.33,468.63 1132.92,470.13 1130,472.5C1127.08,474.87 1123.95,478.58 1122.5,482.5C1121.05,486.42 1120.72,492.53 1121.3,496C1121.88,499.47 1123.88,502.17 1126,503.3C1128.12,504.43 1131.58,503.77 1134,502.8C1136.42,501.83 1139.42,498.38 1140.5,497.5"/>
<path d="M1109.2,515.8C1110.45,516.37 1113.78,518.92 1116.7,519.2C1119.62,519.48 1125.03,517.78 1126.7,517.5"/>
<polyline points="1050,468.3 1065.8,435"/>
<polyline points="1056.5,447.5 1058.5,450.5"/>
<path d="M929.2,486.7C930.17,485.87 932.65,483.1 935,481.7C937.35,480.3 939.55,480.25 943.3,478.3C947.05,476.35 953.88,472.63 957.5,470C961.12,467.37 963.2,465.13 965,462.5C966.8,459.87 966.77,457.4 968.3,454.2C969.83,451 971.83,446.08 974.2,443.3C976.57,440.52 979.58,439.17 982.5,437.5C985.42,435.83 991.7,433.3 991.7,433.3C991.7,433.3 997.2,437.47 1003.3,440.8C1009.4,444.13 1023.43,450.23 1028.3,453.3C1033.17,456.37 1031.67,457.53 1032.5,459.2C1033.33,460.87 1033.17,462.62 1033.3,463.3"/>
<path d="M929.2,486.7C929.05,488.22 928.03,492.88 928.3,495.8C928.57,498.72 928.3,501.13 930.8,504.2C933.3,507.27 939.82,512.4 943.3,514.2C946.78,516 948.92,514.87 951.7,515C954.48,515.13 957.65,515.55 960,515C962.35,514.45 964.42,513.23 965.8,511.7C967.18,510.17 967.88,507.75 968.3,505.8C968.72,503.85 969.4,502.35 968.3,500C967.2,497.65 962.8,493.08 961.7,491.7"/>
<path d="M929.5,490C929.75,489.25 930,486.75 931,485.5C932,484.25 934.75,483 935.5,482.5"/>
<ellipse cx="961.7" cy="505.8" rx="2.2" ry="4.2" transform="rotate(30 961.7 505.8)" stroke-width="2.6"/>
<path d="M956.7,490C955.17,491.25 949.17,494.17 947.5,497.5C945.83,500.83 946.83,507.92 946.7,510"/>
<path d="M946.7,493.3C945.87,494.7 942.53,498.92 941.7,501.7C940.87,504.48 941.7,508.62 941.7,510"/>
<path d="M968.3,506.7C969.13,507.12 972.32,508.1 973.3,509.2C974.28,510.3 974.75,510.67 974.2,513.3C973.65,515.93 972.58,519.51 970,525C967.42,530.49 961.25,540.62 958.75,546.25C956.25,551.88 955.62,556.67 955,558.75"/>
<polyline points="976.7,475 971.7,502.5"/>
<path d="M1033.3,463.3C1034.13,464.7 1036.77,470.03 1038.3,471.7C1039.83,473.37 1041.25,473.45 1042.5,473.3C1043.75,473.15 1045.25,471.22 1045.8,470.8"/>
<path d="M1045.8,470.8C1045.75,472 1045.77,475.35 1045.5,478C1045.23,480.65 1045.12,484 1044.2,486.7C1043.28,489.4 1041.67,492.53 1040,494.2C1038.33,495.87 1035.87,496.7 1034.2,496.7C1032.53,496.7 1030.7,494.62 1030,494.2"/>
<path d="M1030.8,472.5C1029.13,473.75 1022.73,477.37 1020.8,480C1018.87,482.63 1018.92,486.5 1019.2,488.3C1019.48,490.1 1021.95,490.38 1022.5,490.8"/>
<path d="M1018.3,475C1017.47,476.38 1014.13,480.38 1013.3,483.3C1012.47,486.22 1013.3,490.97 1013.3,492.5"/>
<polyline points="1032.5,465 1042,470.5"/>
<polyline points="1035.8,473.3 1044.2,480"/>
<polyline points="1034,489 1036,491.5"/>
<polyline points="992.5,515 1028.3,495"/>
<polyline points="996.7,508.3 1012.5,496.7"/>
<polyline points="988.75,515 982.5,533.75"/>
<path d="M992.5,515C991.25,519.17 987.5,531.25 985,540C982.5,548.75 978.75,562.92 977.5,567.5"/>
<path d="M955,558.75C953.96,560.21 950.21,563.96 948.75,567.5C947.29,571.04 945.83,576.88 946.25,580C946.67,583.12 947.71,583.96 951.25,586.25C954.79,588.54 963.54,592.5 967.5,593.75C971.46,595 972.5,594.79 975,593.75C977.5,592.71 980.83,590.62 982.5,587.5C984.17,584.38 985.42,577.92 985,575C984.58,572.08 980.83,570.83 980,570"/>
<path d="M955,560C956.17,558.67 959.08,554.5 962,552C964.92,549.5 970.75,546.17 972.5,545"/>
<path d="M968.75,558.75C969.12,558.29 970.17,556.62 971,556C971.83,555.38 973.29,555.17 973.75,555"/>
<ellipse cx="974.4" cy="583.1" rx="2.1" ry="3.8" transform="rotate(30 974.4 583.1)" stroke-width="2.6"/>
<path d="M971.25,575C971.71,574.58 972.96,573.12 974,572.5C975.04,571.88 976.92,571.46 977.5,571.25"/>
<polyline points="943.75,593.75 950,588.75"/>
<polyline points="943.75,593.75 943.75,602.5 971.25,613.75"/>
<polyline points="963.75,595 963.75,605"/>
<polyline points="972.5,602.5 972.5,613.75"/>
<polyline points="972.5,601.25 980,593.75"/>
<polyline points="952.5,596.25 958,592.5"/>
<path d="M972.5,613.75C972.5,613.75 1037.08,568.54 1055,555C1072.92,541.46 1075,536.46 1080,532.5C1085,528.54 1083.96,531.04 1085,531.25C1086.04,531.46 1086.25,531.25 1086.25,533.75C1086.25,536.25 1084.38,542.71 1085,546.25C1085.62,549.79 1087.92,552.92 1090,555C1092.08,557.08 1094.58,558.75 1097.5,558.75C1100.42,558.75 1104.58,557.08 1107.5,555C1110.42,552.92 1113.54,549.79 1115,546.25C1116.46,542.71 1117.08,536.46 1116.25,533.75C1115.42,531.04 1112.29,530.21 1110,530C1107.71,529.79 1103.75,532.08 1102.5,532.5"/>
<path d="M1102.5,537.5C1101.25,538.96 1096.25,543.54 1095,546.25C1093.75,548.96 1095,552.5 1095,553.75"/>
<ellipse cx="1106.9" cy="548.75" rx="2.1" ry="3.8" transform="rotate(30 1106.9 548.75)" stroke-width="2.6"/>
<polyline points="977.5,567 1070.8,498.3"/>
<polyline points="980,565 1023.75,538.75"/>
<polyline points="1121,356 1121,381.5"/>
<text x="1116.3" y="352" font-size="16" class="t" stroke="#000" stroke-width="0.35" fill="#000">9</text>
<path d="M816.25,582.5C816.25,582.5 845.21,599.58 851.25,603.75C857.29,607.92 852.71,606.04 852.5,607.5C852.29,608.96 851.04,611.46 850,612.5C848.96,613.54 848.12,612.92 846.25,613.75C844.38,614.58 840.21,615.83 838.75,617.5C837.29,619.17 837.5,621.67 837.5,623.75C837.5,625.83 840,627.29 838.75,630C837.5,632.71 831.88,636.67 830,640C828.12,643.33 828.54,646.67 827.5,650C826.46,653.33 824.79,657.5 823.75,660C822.71,662.5 821.25,665 821.25,665C821.25,665 793.33,649.58 787.5,645C781.67,640.42 785.62,639.58 786.25,637.5C786.88,635.42 788.96,633.75 791.25,632.5C793.54,631.25 797.08,632.5 800,630C802.92,627.5 806.88,620.42 808.75,617.5C810.62,614.58 811.25,614.58 811.25,612.5C811.25,610.42 808.96,607.5 808.75,605C808.54,602.5 810,600 810,597.5C810,595 807.71,592.5 808.75,590C809.79,587.5 815,583.75 816.25,582.5"/>
<polyline points="817.5,587.5 850,606.25"/>
<path d="M819,604.5C819,604.5 820.58,602.5 822,602C823.42,601.5 825.92,601.25 827.5,601.5C829.08,601.75 830.67,602.58 831.5,603.5C832.33,604.42 832.5,607 832.5,607C832.5,607 830.75,614.75 829.5,617.5C828.25,620.25 825,623.5 825,623.5L820.5,621L817.5,622.5L816.5,620.5L818.5,613L819,604.5Z"/>
<path d="M811.5,628.5L814,631L816,630C816,630 816.17,635.75 815.5,638C814.83,640.25 813.58,642.67 812,643.5C810.42,644.33 807.58,643.67 806,643C804.42,642.33 802.75,641.17 802.5,639.5C802.25,637.83 804.5,633 804.5,633L811.5,628.5Z"/>
<polyline points="813.75,611.5 816.25,612.5"/>
<polyline points="832.5,621.25 835,622.5"/>
<polyline points="828.75,551.9 828.75,590"/>
<text x="823.2" y="544.5" font-size="16" class="t" stroke="#000" stroke-width="0.35" fill="#000">4</text>
<ellipse cx="552.79" cy="693.28" rx="31.33" ry="23" transform="rotate(-63.6 552.79 693.28)"/>
<ellipse cx="554.3" cy="692.98" rx="28.84" ry="17.43" transform="rotate(-62.4 554.3 692.98)"/>
<ellipse cx="554.91" cy="693.68" rx="17.08" ry="25.74" transform="rotate(28.8 554.91 693.68)"/>
<ellipse cx="552.82" cy="693.88" rx="11.12" ry="26.28" transform="rotate(30.3 552.82 693.88)"/>
<ellipse cx="596.79" cy="717.28" rx="31.33" ry="23" transform="rotate(-63.6 596.79 717.28)"/>
<ellipse cx="598.3" cy="716.98" rx="28.84" ry="17.43" transform="rotate(-62.4 598.3 716.98)"/>
<ellipse cx="598.91" cy="717.68" rx="17.08" ry="25.74" transform="rotate(28.8 598.91 717.68)"/>
<ellipse cx="596.82" cy="717.88" rx="11.12" ry="26.28" transform="rotate(30.3 596.82 717.88)"/>
<path d="M648.4,715C647.58,714.94 645.48,714.3 643.5,714.65C641.52,715 639.07,715.41 636.5,717.1C633.93,718.79 630.67,721.65 628.1,724.8C625.53,727.95 622.73,732.38 621.1,736C619.47,739.62 618.65,743.23 618.3,746.5C617.95,749.77 618.18,753.27 619,755.6C619.82,757.93 623.2,760.5 623.2,760.5C623.2,760.5 658.2,779.75 665.2,783.6"/>
<polyline points="648.4,715 689,738.8"/>
<ellipse cx="680.94" cy="763.38" rx="26.68" ry="14.89" transform="rotate(-59.9 680.94 763.38)"/>
<path d="M663.8,782.2C664.08,780.17 664.47,773.87 665.5,770C666.53,766.13 668.08,762.42 670,759C671.92,755.58 674.5,752.17 677,749.5C679.5,746.83 682.5,744.42 685,743C687.5,741.58 690.83,741.33 692,741"/>
<path d="M692.5,759.1C692.62,758.05 693.78,754.78 693.2,752.8C692.62,750.82 690.63,748.13 689,747.2C687.37,746.27 685.62,746.03 683.4,747.2C681.18,748.37 678.03,751.17 675.7,754.2C673.37,757.23 670.57,762.02 669.4,765.4C668.23,768.78 668.12,772.05 668.7,774.5C669.28,776.95 670.68,779.63 672.9,780.1C675.12,780.57 680.48,777.77 682,777.3"/>
<polyline points="544.25,723 544.25,753 591.75,779.2 591.75,747.5"/>
<polyline points="564.8,767.3 564.8,777.6"/>
<polyline points="564.8,802.9 564.8,810 640.8,852 640.8,772"/>
<polyline points="597.3,829 597.3,863"/>
<text x="559.8" y="796.9" font-size="16" class="t" stroke="#000" stroke-width="0.35" fill="#000">2</text>
<text x="594.2" y="883.2" font-size="16" class="t" stroke="#000" stroke-width="0.35" fill="#000">1</text>
<path d="M752.5,742.5C752.92,741.04 753.75,737.5 755,733.75C756.25,730 757.92,723.33 760,720C762.08,716.67 765.21,714.58 767.5,713.75C769.79,712.92 772.29,713.75 773.75,715C775.21,716.25 776.04,718.75 776.25,721.25C776.46,723.75 776.04,727.29 775,730C773.96,732.71 771.46,735.62 770,737.5C768.54,739.38 767.08,740 766.25,741.25C765.42,742.5 765.21,744.38 765,745"/>
<path d="M762.5,727.5C763.12,726.04 765.93,723.33 767.5,722.5C769.07,721.67 771.27,721.77 771.9,722.5C772.52,723.23 772.19,725.23 771.25,726.9C770.31,728.57 767.5,731.77 766.25,732.5C765,733.23 764.38,732.08 763.75,731.25C763.12,730.42 761.88,728.96 762.5,727.5Z"/>
<path d="M765,747.5L768.75,746.5L773.75,767.5L770,770L765,747.5Z"/>
<polyline points="770,771.25 752.5,791.25 757.5,796.25 752.5,801.25 747.5,798.75 716.25,833.75 718.75,838.75 713.75,842.5 708.75,841.25 700,846.25"/>
<path d="M700,846.25C699.17,845.42 696.67,843.33 695,841.25C693.33,839.17 691.25,835.21 690,833.75C688.75,832.29 687.5,832.5 687.5,832.5C687.5,832.5 679.79,840 677.5,841.25C675.21,842.5 674.79,841.88 673.75,840C672.71,838.12 671.46,832.5 671.25,830C671.04,827.5 671.67,825.83 672.5,825C673.33,824.17 674.79,824.38 676.25,825C677.71,825.62 681.25,828.75 681.25,828.75"/>
<polyline points="681.25,828.75 752.5,742.5"/>
<path d="M706.25,790L717.5,777.5L722.5,780L721.25,785L712.5,792.5L706.25,790Z"/>
<polyline points="672.5,832.5 675,838.75"/>
<path d="M803.75,772.5C804.38,770.42 806.04,763.75 807.5,760C808.96,756.25 810.42,752.5 812.5,750C814.58,747.5 817.71,745.62 820,745C822.29,744.38 824.79,745 826.25,746.25C827.71,747.5 828.75,749.58 828.75,752.5C828.75,755.42 828.12,759.79 826.25,763.75C824.38,767.71 819.38,773.75 817.5,776.25C815.62,778.75 815,776.67 815,778.75C815,780.83 817.08,785.62 817.5,788.75C817.92,791.88 818.12,795 817.5,797.5C816.88,800 813.75,803.75 813.75,803.75C813.75,803.75 758.96,861.88 747.5,873.75C736.04,885.62 745.42,874.79 745,875"/>
<ellipse cx="819" cy="757.5" rx="2.4" ry="4.8" transform="rotate(30 819 757.5)"/>
<polyline points="803.75,772.5 730,852.5"/>
<path d="M730,852.5C730,852.5 724.38,850 722.5,850C720.62,850 719.17,850.83 718.75,852.5C718.33,854.17 718.96,857.08 720,860C721.04,862.92 725,870 725,870L735,862.5C735,862.5 735,862.08 736.25,863.75C737.5,865.42 741.04,870.62 742.5,872.5C743.96,874.38 744.58,874.58 745,875"/>
<polyline points="722.5,858.75 726.25,866.25"/>
<polyline points="731.25,851.25 755,823.75"/>
<polyline points="733.75,850 751.25,828.75"/>
<path d="M873.75,807.5C873.75,806.67 872.92,804.79 873.75,802.5C874.58,800.21 877.5,796.67 878.75,793.75C880,790.83 881.04,787.92 881.25,785C881.46,782.08 881.04,778.33 880,776.25C878.96,774.17 877.08,772.92 875,772.5C872.92,772.08 870,771.88 867.5,773.75C865,775.62 861.88,779.58 860,783.75C858.12,787.92 856.25,798.75 856.25,798.75C856.25,798.75 838.96,815.62 835,818.75C831.04,821.88 833.54,817.5 832.5,817.5C831.46,817.5 829.68,817.92 828.75,818.75C827.82,819.58 827.32,821.04 826.9,822.5C826.48,823.96 826.25,827.5 826.25,827.5C826.25,827.5 789.79,872.29 782.5,881.25"/>
<path d="M782.5,881.25C781.67,881.25 779.07,880.83 777.5,881.25C775.93,881.67 773.73,882.71 773.1,883.75C772.48,884.79 772.6,885.21 773.75,887.5C774.9,889.79 778.12,895.21 780,897.5C781.88,899.79 785,901.25 785,901.25C785,901.25 792.92,895 795,893.75C797.08,892.5 797.5,893.75 797.5,893.75C797.5,893.75 814.17,901.04 817.5,902.5"/>
<ellipse cx="871" cy="788" rx="2.2" ry="4.5" transform="rotate(30 871 788)"/>
<path d="M867.5,806.25C868.54,806.46 872.08,806.46 873.75,807.5C875.42,808.54 877.5,812.5 877.5,812.5L877.5,840C877.5,840 854.58,863.96 850,868.75"/>
<polyline points="867.5,806.25 831.25,837.5"/>
<path d="M831.25,837.5C832.71,838.42 837.71,841.33 840,843C842.29,844.67 843.33,843.21 845,847.5C846.67,851.79 849.17,865.21 850,868.75"/>
<polyline points="847.5,871.25 817.5,902.5"/>
<polyline points="871.25,815 846.25,837.5"/>
<polyline points="865,807.5 832.5,836.25"/>
<polyline points="827.5,842.5 796.25,878.75"/>
<polyline points="831.25,853.75 808.75,880"/>
<polyline points="798.75,885 817.5,902.5"/>
<polyline points="807.5,888.75 816.25,900"/>
<polyline points="774.5,886 778,893"/>
<path d="M940,840C941.04,837.92 945.21,831.46 946.25,827.5C947.29,823.54 947.08,818.96 946.25,816.25C945.42,813.54 943.12,812.08 941.25,811.25C939.38,810.42 937.5,809.79 935,811.25C932.5,812.71 928.12,816.25 926.25,820C924.38,823.75 924.38,831.46 923.75,833.75C923.12,836.04 922.71,833.75 922.5,833.75"/>
<ellipse cx="937" cy="825.5" rx="2.3" ry="4.8" transform="rotate(30 937 825.5)"/>
<path d="M940,840C940.21,842.29 940.83,850 941.25,853.75C941.67,857.5 942.92,859.79 942.5,862.5C942.08,865.21 938.75,870 938.75,870L877.5,942.5L868.75,937.5C868.75,937.5 861.04,945 857.5,943.75C853.96,942.5 849.48,933.12 847.5,930C845.52,926.88 845.18,926.04 845.6,925C846.02,923.96 848.64,923.54 850,923.75C851.36,923.96 853.12,925.83 853.75,926.25"/>
<path d="M853.75,926.25C853.54,924.38 852.5,915 852.5,915C852.5,915 880.5,879.42 886.5,872C892.5,864.58 887.83,871.08 888.5,870.5C889.17,869.92 889.83,869.62 890.5,868.5C891.17,867.38 892.5,863.75 892.5,863.75C892.5,863.75 914.5,840.5 919.5,835.5C924.5,830.5 921.67,833.92 922.5,833.75C923.33,833.58 924.33,833.96 924.5,834.5C924.67,835.04 923.5,837 923.5,837C923.5,837 908.92,854.58 905.5,858.5C902.08,862.42 903.75,860.25 903,860.5C902.25,860.75 901.33,860.08 901,860"/>
<polyline points="855,925 889,873.5"/>
<polyline points="860,927.5 885,892.5"/>
<polyline points="907.5,860 915,853.75"/>
<polyline points="847.5,931.25 856.25,941.25"/>
<path d="M979.2,871.1C979.67,870.38 980.35,868.93 982,866.8C983.65,864.67 987.57,861.6 989.1,858.3C990.63,855 991.2,850.07 991.2,847C991.2,843.93 990.63,841.32 989.1,839.9C987.57,838.48 984.6,837.32 982,838.5C979.4,839.68 975.38,843.22 973.5,847C971.62,850.78 971.17,858.83 970.7,861.2"/>
<ellipse cx="982.7" cy="851.25" rx="2.3" ry="4.8" transform="rotate(30 982.7 851.25)"/>
<path d="M979.2,871.1C979.67,873.22 981.53,880.27 982,883.8C982.47,887.33 982,892.3 982,892.3C982,892.3 926.5,958.47 915.4,971.7"/>
<polyline points="970.7,861.2 902.7,949"/>
<path d="M902.7,949C902.7,949 893.78,947.37 891.3,947.6C888.82,947.83 888.03,948.75 887.8,950.4C887.57,952.05 888.6,954.67 889.9,957.5C891.2,960.33 895.6,967.4 895.6,967.4C895.6,967.4 903.62,959.84 905.5,958.9C907.38,957.96 905.25,959.62 906.9,961.75C908.55,963.88 913.98,970.04 915.4,971.7"/>
<polyline points="904.8,948 922.5,922"/>
<polyline points="891.3,955 893.6,960.5"/>
<path d="M1018.8,890.9C1019.98,889.02 1024.24,883.38 1025.9,879.6C1027.56,875.83 1028.75,871.32 1028.75,868.25C1028.75,865.18 1027.79,862.49 1025.9,861.2C1024.01,859.91 1020,859.33 1017.4,860.5C1014.8,861.67 1011.95,864.37 1010.3,868.25C1008.65,872.13 1007.97,881.21 1007.5,883.8"/>
<ellipse cx="1018.1" cy="872.5" rx="2.3" ry="4.8" transform="rotate(30 1018.1 872.5)"/>
<path d="M1018.8,890.9C1019.52,892.55 1021.92,897.25 1023.1,900.8C1024.28,904.35 1025.67,908.88 1025.9,912.2C1026.13,915.52 1024.5,920.7 1024.5,920.7C1024.5,920.7 973.75,984.45 963.6,997.2"/>
<polyline points="1007.5,883.8 973.5,927.75 969.25,924.9 960.75,934.8 962.2,939.1 965,941.9 942.3,980.2"/>
<path d="M942.3,980.2C942.3,980.2 935.68,977.3 933.8,977.3C931.92,977.3 931.23,978.78 931,980.2C930.77,981.62 931.22,983.45 932.4,985.8C933.58,988.15 938.1,994.3 938.1,994.3L946.6,987.25C946.6,987.25 952.27,992.64 955.1,994.3C957.93,995.96 962.18,996.72 963.6,997.2"/>
<polyline points="967.8,929.2 972,930.7"/>
<polyline points="966.4,934.8 969.2,936.3"/>
<polyline points="933.8,983 938,991"/>
<polyline points="700.25,847.5 700.25,914 963.1,1064 963.1,997.5"/>
<polyline points="744.7,875.6 744.7,939.4"/>
<polyline points="785.6,901 785.6,962.8"/>
<polyline points="821,982.9 821,1021"/>
<polyline points="857.75,942.2 857.75,1004"/>
<polyline points="915.3,973.1 915.3,1036.9"/>
<text x="816.8" y="1042.7" font-size="16" class="t" stroke="#000" stroke-width="0.35" fill="#000">3</text>
<path d="M477.5,977.5L488.5,959.5L491.5,961L514,949.5L516,951.5L516,965L491,980L490.5,984.5Z" fill="#000" stroke="#000" stroke-width="1"/>
<g transform="translate(491,977) skewY(-27)"><text x="0" y="0" font-size="15" font-weight="bold" fill="#fff" stroke="none" class="t" style="fill:#fff" transform="scale(0.7,1)">FWD</text></g>
</g>
</svg>
</body></html>
